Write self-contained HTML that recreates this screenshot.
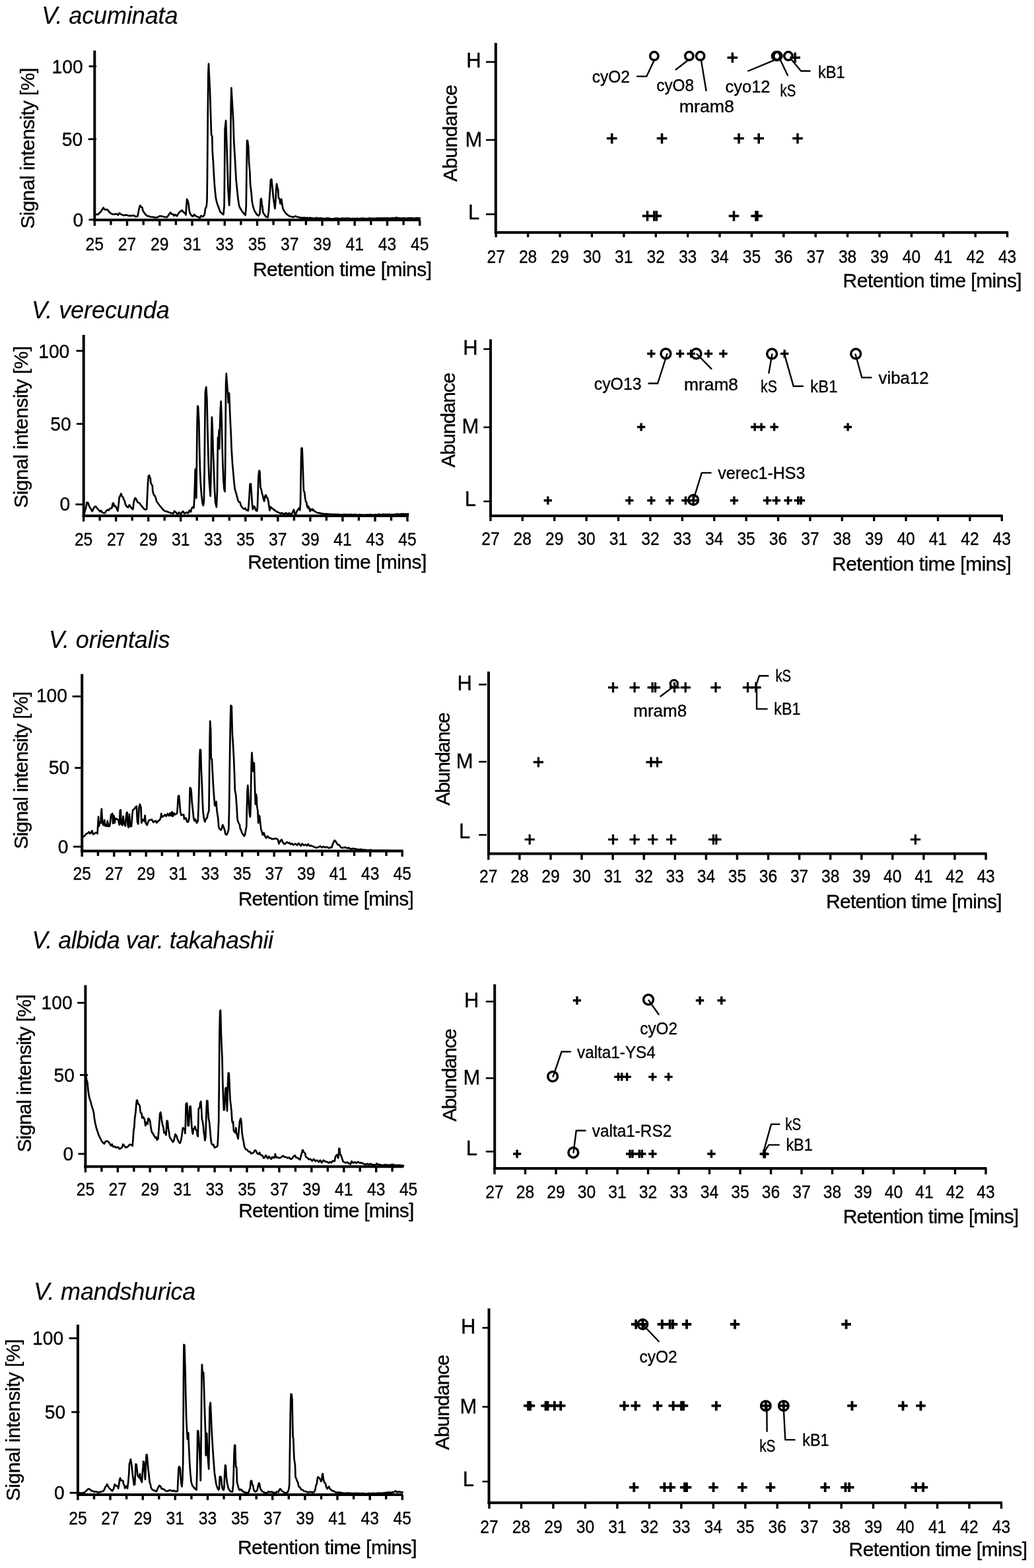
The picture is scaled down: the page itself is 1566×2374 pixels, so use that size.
<!DOCTYPE html>
<html lang="en">
<head>
<meta charset="utf-8">
<title>Viola cyclotide LC-MS profiles</title>
<style>
html,body{margin:0;padding:0;background:#fff;}
body{width:1566px;height:2374px;overflow:hidden;}
svg{display:block;}
text{font-family:"Liberation Sans",Arial,Helvetica,sans-serif;fill:#000;stroke:#000;stroke-width:0.35px;}
.ti{font-style:italic;stroke-width:0.15px;}
</style>
</head>
<body>
<svg width="1566" height="2374" viewBox="0 0 1566 2374">
<rect width="1566" height="2374" fill="#fff"/>
<g>
<polyline points="145.0,324.4 148.3,324.9 150.3,322.7 152.5,320.7 154.1,318.3 156.6,314.4 158.3,317.1 160.3,317.4 162.4,317.1 164.9,320.4 167.4,322.7 170.7,324.4 174.0,324.4 176.2,323.7 179.0,325.7 180.7,322.7 183.2,324.4 187.3,326.1 191.5,325.4 194.8,326.6 198.9,326.6 202.8,326.1 205.6,328.2 208.4,327.4 209.7,320.7 211.1,314.1 212.2,311.1 213.9,313.3 215.5,314.4 216.4,319.1 218.4,322.1 220.5,324.9 223.0,327.0 226.0,327.4 228.0,328.5 231.3,328.5 234.6,329.4 237.0,329.2 239.3,328.7 242.1,327.0 246.3,327.7 249.6,328.5 252.9,329.0 255.4,325.4 258.2,321.6 259.9,324.1 262.0,324.4 263.7,326.6 265.4,324.9 267.8,327.0 270.3,323.2 272.8,320.4 275.8,318.3 277.5,321.1 279.5,322.1 281.5,325.4 282.5,309.1 283.1,301.6 284.4,304.1 285.8,309.9 286.4,317.4 287.8,323.2 290.3,326.6 291.9,327.7 294.1,324.9 296.1,327.0 299.4,328.2 302.7,329.9 304.4,326.6 306.9,328.2 309.7,325.4 311.0,315.8 312.7,312.4 313.5,304.1 314.0,262.6 314.7,179.6 315.3,113.2 316.0,96.6 316.8,113.2 318.0,138.1 319.0,171.3 320.1,204.5 321.3,206.2 321.8,229.4 323.0,246.0 324.0,266.0 325.1,282.6 326.8,299.2 328.4,306.6 330.1,311.6 331.8,315.8 333.4,320.7 335.9,322.7 338.4,324.9 339.6,312.4 340.1,262.6 340.6,196.2 342.1,182.6 342.9,204.5 344.2,246.0 345.5,287.5 347.2,310.8 348.4,287.5 349.2,229.4 349.7,163.0 350.4,133.1 351.7,154.7 353.3,182.9 354.2,212.8 355.3,230.3 356.2,246.0 357.5,270.9 358.8,284.2 360.5,300.8 362.1,311.6 364.1,315.8 366.1,319.1 368.8,322.7 371.6,325.7 372.8,312.4 373.4,262.6 374.1,212.8 374.9,212.8 376.1,221.1 377.1,246.0 378.3,259.3 379.1,279.2 380.7,292.5 381.6,304.1 383.2,312.4 385.4,319.1 386.6,321.1 389.1,324.9 391.6,326.6 393.3,324.1 394.1,315.8 394.9,301.6 395.8,300.8 396.6,309.9 397.4,312.4 398.3,321.6 399.9,324.1 401.6,326.6 403.2,328.2 405.7,329.0 406.9,320.7 407.9,304.1 409.1,287.5 409.9,272.6 411.2,271.3 412.4,282.6 413.2,290.9 414.0,299.2 415.2,308.3 416.5,315.8 417.4,304.1 418.2,287.5 419.0,278.4 420.2,284.2 421.2,287.5 421.8,299.2 423.5,301.6 424.5,308.3 426.2,301.6 427.3,309.1 428.5,315.8 430.6,319.9 433.1,323.2 436.4,326.1 439.8,327.7 443.9,328.7 447.2,327.4 450.6,328.5 454.7,329.4 457.5,329.9 460.2,329.6 463.0,329.9 465.2,329.8 467.4,330.0 469.7,329.9 471.9,330.0 474.1,330.5 476.3,330.7 479.6,329.9 482.9,330.7 485.2,330.3 487.5,330.7 489.8,331.1 492.1,330.9 494.4,330.7 496.7,330.4 499.0,330.8 501.3,331.1 503.6,331.3 505.9,331.1 508.2,330.6 510.5,330.5 512.8,330.9 515.0,331.2 517.2,330.7 519.5,330.7 521.7,330.8 523.9,330.6 526.1,330.7 528.3,330.6 530.5,331.2 532.7,331.1 535.0,330.9 537.2,331.1 539.4,331.0 541.6,330.7 543.8,331.2 546.0,330.9 548.3,330.6 550.6,330.7 552.8,331.0 555.1,331.0 557.3,330.9 559.6,330.2 561.9,331.0 564.1,330.5 566.4,330.9 568.7,330.8 570.9,330.4 573.7,330.7 576.5,330.4 579.2,330.7 581.6,330.4 584.0,330.5 586.3,330.1 588.7,330.6 591.1,330.6 593.5,330.1 595.8,330.2 598.3,330.1 600.8,329.4 603.3,330.4 605.8,330.3 608.3,330.8 610.8,330.0 613.3,330.5 615.8,330.7 618.3,330.0 620.7,330.4 623.2,330.1 625.7,330.5 628.2,330.6 630.7,330.0 633.2,330.2 635.7,330.4" fill="none" stroke="#000" stroke-width="2.7" stroke-linejoin="round" stroke-linecap="round" />
<line x1="143.3" y1="76.6" x2="143.3" y2="335.0" stroke="#000" stroke-width="4.0" stroke-linecap="butt"/>
<line x1="141.3" y1="333.0" x2="636.5" y2="333.0" stroke="#000" stroke-width="4.0" stroke-linecap="butt"/>
<line x1="143.3" y1="333.0" x2="143.3" y2="341.8" stroke="#000" stroke-width="3.4" stroke-linecap="butt"/>
<line x1="167.9" y1="333.0" x2="167.9" y2="340.7" stroke="#000" stroke-width="3.4" stroke-linecap="butt"/>
<line x1="192.5" y1="333.0" x2="192.5" y2="341.8" stroke="#000" stroke-width="3.4" stroke-linecap="butt"/>
<line x1="217.2" y1="333.0" x2="217.2" y2="340.7" stroke="#000" stroke-width="3.4" stroke-linecap="butt"/>
<line x1="241.8" y1="333.0" x2="241.8" y2="341.8" stroke="#000" stroke-width="3.4" stroke-linecap="butt"/>
<line x1="266.4" y1="333.0" x2="266.4" y2="340.7" stroke="#000" stroke-width="3.4" stroke-linecap="butt"/>
<line x1="291.0" y1="333.0" x2="291.0" y2="341.8" stroke="#000" stroke-width="3.4" stroke-linecap="butt"/>
<line x1="315.6" y1="333.0" x2="315.6" y2="340.7" stroke="#000" stroke-width="3.4" stroke-linecap="butt"/>
<line x1="340.3" y1="333.0" x2="340.3" y2="341.8" stroke="#000" stroke-width="3.4" stroke-linecap="butt"/>
<line x1="364.9" y1="333.0" x2="364.9" y2="340.7" stroke="#000" stroke-width="3.4" stroke-linecap="butt"/>
<line x1="389.5" y1="333.0" x2="389.5" y2="341.8" stroke="#000" stroke-width="3.4" stroke-linecap="butt"/>
<line x1="414.1" y1="333.0" x2="414.1" y2="340.7" stroke="#000" stroke-width="3.4" stroke-linecap="butt"/>
<line x1="438.7" y1="333.0" x2="438.7" y2="341.8" stroke="#000" stroke-width="3.4" stroke-linecap="butt"/>
<line x1="463.4" y1="333.0" x2="463.4" y2="340.7" stroke="#000" stroke-width="3.4" stroke-linecap="butt"/>
<line x1="488.0" y1="333.0" x2="488.0" y2="341.8" stroke="#000" stroke-width="3.4" stroke-linecap="butt"/>
<line x1="512.6" y1="333.0" x2="512.6" y2="340.7" stroke="#000" stroke-width="3.4" stroke-linecap="butt"/>
<line x1="537.2" y1="333.0" x2="537.2" y2="341.8" stroke="#000" stroke-width="3.4" stroke-linecap="butt"/>
<line x1="561.8" y1="333.0" x2="561.8" y2="340.7" stroke="#000" stroke-width="3.4" stroke-linecap="butt"/>
<line x1="586.5" y1="333.0" x2="586.5" y2="341.8" stroke="#000" stroke-width="3.4" stroke-linecap="butt"/>
<line x1="611.1" y1="333.0" x2="611.1" y2="340.7" stroke="#000" stroke-width="3.4" stroke-linecap="butt"/>
<line x1="635.7" y1="333.0" x2="635.7" y2="341.8" stroke="#000" stroke-width="3.4" stroke-linecap="butt"/>
<text x="143.3" y="378.5" font-size="28" text-anchor="middle" class="tk" textLength="27.4" lengthAdjust="spacingAndGlyphs">25</text>
<text x="192.5" y="378.5" font-size="28" text-anchor="middle" class="tk" textLength="27.4" lengthAdjust="spacingAndGlyphs">27</text>
<text x="241.8" y="378.5" font-size="28" text-anchor="middle" class="tk" textLength="27.4" lengthAdjust="spacingAndGlyphs">29</text>
<text x="291.0" y="378.5" font-size="28" text-anchor="middle" class="tk" textLength="27.4" lengthAdjust="spacingAndGlyphs">31</text>
<text x="340.3" y="378.5" font-size="28" text-anchor="middle" class="tk" textLength="27.4" lengthAdjust="spacingAndGlyphs">33</text>
<text x="389.5" y="378.5" font-size="28" text-anchor="middle" class="tk" textLength="27.4" lengthAdjust="spacingAndGlyphs">35</text>
<text x="438.7" y="378.5" font-size="28" text-anchor="middle" class="tk" textLength="27.4" lengthAdjust="spacingAndGlyphs">37</text>
<text x="488.0" y="378.5" font-size="28" text-anchor="middle" class="tk" textLength="27.4" lengthAdjust="spacingAndGlyphs">39</text>
<text x="537.2" y="378.5" font-size="28" text-anchor="middle" class="tk" textLength="27.4" lengthAdjust="spacingAndGlyphs">41</text>
<text x="586.5" y="378.5" font-size="28" text-anchor="middle" class="tk" textLength="27.4" lengthAdjust="spacingAndGlyphs">43</text>
<text x="635.7" y="378.5" font-size="28" text-anchor="middle" class="tk" textLength="27.4" lengthAdjust="spacingAndGlyphs">45</text>
<line x1="134.5" y1="100.4" x2="146.0" y2="100.4" stroke="#000" stroke-width="2.8" stroke-linecap="butt"/>
<text x="125.7" y="110.5" font-size="30.3" text-anchor="end" class="yt" textLength="47.1" lengthAdjust="spacingAndGlyphs">100</text>
<line x1="133.6" y1="210.7" x2="146.0" y2="210.7" stroke="#000" stroke-width="2.8" stroke-linecap="butt"/>
<text x="125.2" y="220.6" font-size="30.3" text-anchor="end" class="yt" textLength="31.4" lengthAdjust="spacingAndGlyphs">50</text>
<line x1="134.5" y1="332.6" x2="143.3" y2="332.6" stroke="#000" stroke-width="2.8" stroke-linecap="butt"/>
<text x="126.3" y="343.3" font-size="30.3" text-anchor="end" class="yt" textLength="15.7" lengthAdjust="spacingAndGlyphs">0</text>
<text x="63.3" y="36.2" font-size="36" class="ti" textLength="206.2" lengthAdjust="spacing">V. acuminata</text>
<text transform="translate(51.6 346.2) rotate(-90)" font-size="30" class="lb" textLength="243.6" lengthAdjust="spacing">Signal intensity [%]</text>
<text x="382.9" y="417.6" font-size="30" class="lb" textLength="271.1" lengthAdjust="spacing">Retention time [mins]</text>
<polyline points="127.5,778.2 129.1,772.4 130.8,765.8 131.6,760.8 133.3,761.1 134.9,765.8 136.6,769.1 138.3,771.6 139.6,774.1 141.3,770.7 143.2,767.4 144.9,766.6 146.6,769.1 149.1,771.6 151.5,774.4 153.2,773.2 154.9,775.7 157.4,776.9 159.0,776.6 160.7,773.7 162.8,771.6 164.5,772.7 166.8,769.9 169.5,769.1 170.6,762.4 171.8,761.6 173.1,766.6 174.8,765.8 176.4,769.1 178.4,773.7 179.8,762.4 180.6,753.3 181.8,750.8 183.4,747.5 184.8,751.6 186.1,752.5 187.7,756.6 188.9,759.1 190.1,764.1 191.7,766.6 193.9,768.3 196.0,764.4 197.2,766.6 198.9,769.1 201.4,771.1 202.5,760.8 203.8,755.8 205.0,753.8 206.7,756.6 208.8,760.8 211.0,761.6 213.0,764.1 215.5,767.4 218.0,770.4 220.4,771.6 222.1,770.7 222.9,754.1 223.9,732.6 224.9,720.9 225.9,719.6 227.1,723.4 227.9,724.3 228.3,730.9 229.6,733.4 230.9,735.9 231.2,743.3 232.9,749.2 234.6,750.8 236.2,755.0 237.5,759.9 239.2,761.6 240.9,764.4 242.9,766.6 244.9,769.1 247.0,771.6 249.5,773.7 252.8,774.4 256.1,775.7 259.5,776.9 262.5,777.4 264.1,773.7 266.1,775.4 268.6,778.5 271.4,775.7 273.6,778.5 276.9,774.1 279.4,777.4 282.7,775.7 285.2,777.0 286.9,772.7 289.0,774.9 290.2,769.9 291.8,767.8 293.5,769.1 294.3,755.8 295.2,729.2 295.7,711.0 296.8,709.6 297.3,754.1 298.0,696.0 298.5,646.2 299.3,614.7 300.1,616.3 301.3,637.9 302.1,679.4 303.0,712.6 304.0,734.2 305.1,749.2 306.8,762.4 307.9,765.4 308.9,759.1 309.6,712.6 310.3,646.2 310.9,593.1 312.3,586.1 313.4,604.7 314.3,646.2 315.6,696.0 316.7,725.9 317.9,742.5 318.7,751.1 319.6,712.6 320.2,662.8 320.9,631.6 321.7,646.2 322.6,679.4 323.9,712.6 325.0,742.5 326.2,760.8 327.9,767.8 328.9,745.8 329.5,696.0 330.0,662.8 331.2,661.2 331.7,651.2 332.2,679.4 333.0,646.2 333.8,621.3 334.7,607.7 335.5,629.6 336.3,662.8 337.2,696.0 338.3,725.9 339.5,740.9 340.5,744.2 341.1,712.6 341.6,646.2 342.1,579.8 342.8,565.7 343.8,579.8 345.0,596.4 345.8,609.7 346.1,594.8 347.1,595.6 347.8,613.0 348.8,637.9 349.9,659.5 350.8,682.7 352.1,702.7 353.3,716.0 354.4,729.2 355.8,740.9 357.1,745.0 358.7,750.8 360.4,757.5 361.7,759.9 363.7,760.8 365.0,765.8 367.5,769.1 370.0,770.7 371.6,769.1 372.5,771.6 374.6,772.7 375.8,773.2 376.6,765.8 377.6,750.8 378.6,732.9 379.9,732.6 380.8,745.8 381.9,762.4 382.9,771.1 384.6,766.6 385.7,767.4 387.4,772.7 389.1,773.7 389.9,769.1 390.7,745.8 391.5,720.9 392.4,712.6 393.5,713.5 394.4,737.5 395.7,740.9 396.9,747.5 397.9,750.0 399.0,755.8 400.2,758.8 401.5,750.8 402.8,749.5 404.0,753.3 405.2,754.1 406.5,759.1 407.3,765.8 408.5,772.7 409.8,767.4 411.8,769.4 414.8,771.6 418.1,774.1 421.4,775.7 424.8,777.4 427.2,776.6 429.7,778.5 433.1,776.6 435.5,778.5 438.0,776.9 441.4,779.0 443.8,774.1 445.0,771.6 446.3,777.4 448.0,778.5 449.7,774.1 451.3,771.6 453.0,769.1 454.3,772.4 455.0,762.4 455.5,729.2 456.0,696.0 456.6,678.6 457.6,678.6 458.3,696.0 459.1,720.9 459.9,742.5 461.3,745.8 462.1,754.1 463.3,759.9 464.3,760.8 464.9,765.8 466.3,769.1 467.1,766.6 468.3,769.9 469.6,774.1 470.9,770.7 472.9,772.7 473.7,770.7 475.4,773.2 477.9,774.9 481.2,776.6 483.7,776.6 486.2,777.4 488.4,777.5 490.6,778.2 492.8,778.2 495.6,778.2 498.4,778.7 501.1,778.5 503.9,779.1 506.7,778.7 509.4,779.0 512.2,778.8 515.0,779.4 517.7,779.4 520.5,778.9 523.3,779.2 526.0,779.0 528.4,779.4 530.8,778.9 533.1,779.3 535.5,779.4 537.9,778.9 540.3,779.6 542.6,779.4 545.0,779.1 547.4,779.6 549.7,779.5 552.1,779.7 554.5,779.7 556.9,779.3 559.2,779.4 561.6,779.0 564.0,779.7 566.3,779.5 568.7,779.2 571.1,779.6 573.5,778.7 575.8,779.0 578.2,779.3 580.6,778.6 583.0,779.1 585.3,778.9 587.7,778.9 590.1,778.9 592.4,779.0 595.2,779.2 598.0,778.9 600.7,778.4 603.5,778.5 606.3,778.3 609.0,778.0 611.3,778.1 613.6,778.4 615.9,778.3 618.2,778.2" fill="none" stroke="#000" stroke-width="2.7" stroke-linejoin="round" stroke-linecap="round" />
<line x1="126.7" y1="506.9" x2="126.7" y2="783.1" stroke="#000" stroke-width="4.0" stroke-linecap="butt"/>
<line x1="124.7" y1="781.1" x2="619.0" y2="781.1" stroke="#000" stroke-width="4.0" stroke-linecap="butt"/>
<line x1="126.6" y1="781.1" x2="126.6" y2="789.5" stroke="#000" stroke-width="3.4" stroke-linecap="butt"/>
<line x1="151.1" y1="781.1" x2="151.1" y2="788.4" stroke="#000" stroke-width="3.4" stroke-linecap="butt"/>
<line x1="175.6" y1="781.1" x2="175.6" y2="789.5" stroke="#000" stroke-width="3.4" stroke-linecap="butt"/>
<line x1="200.2" y1="781.1" x2="200.2" y2="788.4" stroke="#000" stroke-width="3.4" stroke-linecap="butt"/>
<line x1="224.7" y1="781.1" x2="224.7" y2="789.5" stroke="#000" stroke-width="3.4" stroke-linecap="butt"/>
<line x1="249.2" y1="781.1" x2="249.2" y2="788.4" stroke="#000" stroke-width="3.4" stroke-linecap="butt"/>
<line x1="273.7" y1="781.1" x2="273.7" y2="789.5" stroke="#000" stroke-width="3.4" stroke-linecap="butt"/>
<line x1="298.2" y1="781.1" x2="298.2" y2="788.4" stroke="#000" stroke-width="3.4" stroke-linecap="butt"/>
<line x1="322.8" y1="781.1" x2="322.8" y2="789.5" stroke="#000" stroke-width="3.4" stroke-linecap="butt"/>
<line x1="347.3" y1="781.1" x2="347.3" y2="788.4" stroke="#000" stroke-width="3.4" stroke-linecap="butt"/>
<line x1="371.8" y1="781.1" x2="371.8" y2="789.5" stroke="#000" stroke-width="3.4" stroke-linecap="butt"/>
<line x1="396.3" y1="781.1" x2="396.3" y2="788.4" stroke="#000" stroke-width="3.4" stroke-linecap="butt"/>
<line x1="420.8" y1="781.1" x2="420.8" y2="789.5" stroke="#000" stroke-width="3.4" stroke-linecap="butt"/>
<line x1="445.4" y1="781.1" x2="445.4" y2="788.4" stroke="#000" stroke-width="3.4" stroke-linecap="butt"/>
<line x1="469.9" y1="781.1" x2="469.9" y2="789.5" stroke="#000" stroke-width="3.4" stroke-linecap="butt"/>
<line x1="494.4" y1="781.1" x2="494.4" y2="788.4" stroke="#000" stroke-width="3.4" stroke-linecap="butt"/>
<line x1="518.9" y1="781.1" x2="518.9" y2="789.5" stroke="#000" stroke-width="3.4" stroke-linecap="butt"/>
<line x1="543.4" y1="781.1" x2="543.4" y2="788.4" stroke="#000" stroke-width="3.4" stroke-linecap="butt"/>
<line x1="568.0" y1="781.1" x2="568.0" y2="789.5" stroke="#000" stroke-width="3.4" stroke-linecap="butt"/>
<line x1="592.5" y1="781.1" x2="592.5" y2="788.4" stroke="#000" stroke-width="3.4" stroke-linecap="butt"/>
<line x1="617.0" y1="781.1" x2="617.0" y2="789.5" stroke="#000" stroke-width="3.4" stroke-linecap="butt"/>
<text x="126.6" y="825.6" font-size="28" text-anchor="middle" class="tk" textLength="27.4" lengthAdjust="spacingAndGlyphs">25</text>
<text x="175.6" y="825.6" font-size="28" text-anchor="middle" class="tk" textLength="27.4" lengthAdjust="spacingAndGlyphs">27</text>
<text x="224.7" y="825.6" font-size="28" text-anchor="middle" class="tk" textLength="27.4" lengthAdjust="spacingAndGlyphs">29</text>
<text x="273.7" y="825.6" font-size="28" text-anchor="middle" class="tk" textLength="27.4" lengthAdjust="spacingAndGlyphs">31</text>
<text x="322.8" y="825.6" font-size="28" text-anchor="middle" class="tk" textLength="27.4" lengthAdjust="spacingAndGlyphs">33</text>
<text x="371.8" y="825.6" font-size="28" text-anchor="middle" class="tk" textLength="27.4" lengthAdjust="spacingAndGlyphs">35</text>
<text x="420.8" y="825.6" font-size="28" text-anchor="middle" class="tk" textLength="27.4" lengthAdjust="spacingAndGlyphs">37</text>
<text x="469.9" y="825.6" font-size="28" text-anchor="middle" class="tk" textLength="27.4" lengthAdjust="spacingAndGlyphs">39</text>
<text x="518.9" y="825.6" font-size="28" text-anchor="middle" class="tk" textLength="27.4" lengthAdjust="spacingAndGlyphs">41</text>
<text x="568.0" y="825.6" font-size="28" text-anchor="middle" class="tk" textLength="27.4" lengthAdjust="spacingAndGlyphs">43</text>
<text x="617.0" y="825.6" font-size="28" text-anchor="middle" class="tk" textLength="27.4" lengthAdjust="spacingAndGlyphs">45</text>
<line x1="115.5" y1="531.2" x2="126.7" y2="531.2" stroke="#000" stroke-width="2.8" stroke-linecap="butt"/>
<text x="105.3" y="541.9" font-size="30.3" text-anchor="end" class="yt" textLength="47.1" lengthAdjust="spacingAndGlyphs">100</text>
<line x1="115.9" y1="641.8" x2="126.7" y2="641.8" stroke="#000" stroke-width="2.8" stroke-linecap="butt"/>
<text x="107.7" y="651.5" font-size="30.3" text-anchor="end" class="yt" textLength="31.4" lengthAdjust="spacingAndGlyphs">50</text>
<line x1="114.4" y1="763.7" x2="126.7" y2="763.7" stroke="#000" stroke-width="2.8" stroke-linecap="butt"/>
<text x="106.3" y="773.3" font-size="30.3" text-anchor="end" class="yt" textLength="15.7" lengthAdjust="spacingAndGlyphs">0</text>
<text x="48.0" y="481.5" font-size="36" class="ti" textLength="208.7" lengthAdjust="spacing">V. verecunda</text>
<text transform="translate(42.3 768.9) rotate(-90)" font-size="30" class="lb" textLength="244.9" lengthAdjust="spacing">Signal intensity [%]</text>
<text x="375.2" y="861.2" font-size="30" class="lb" textLength="271.1" lengthAdjust="spacing">Retention time [mins]</text>
<polyline points="125.5,1267.5 128.0,1265.5 130.5,1262.5 132.9,1261.6 134.6,1259.5 136.3,1262.1 137.9,1260.8 139.3,1257.8 141.2,1263.3 143.7,1261.6 145.9,1260.5 147.6,1262.1 148.4,1247.5 149.0,1236.7 149.9,1250.9 151.2,1245.9 152.5,1245.9 153.2,1230.9 153.9,1224.6 154.5,1235.9 155.4,1247.5 157.0,1249.5 158.2,1241.7 159.2,1250.0 161.5,1250.9 162.8,1242.9 164.2,1251.2 166.1,1250.9 167.3,1242.6 168.1,1233.9 170.3,1231.8 171.1,1246.7 172.5,1235.1 173.6,1245.9 174.8,1239.2 177.4,1240.1 179.1,1241.7 180.8,1248.9 181.9,1226.8 182.8,1226.3 183.6,1247.5 185.2,1249.5 186.6,1235.9 187.7,1246.7 189.7,1250.5 191.1,1235.9 191.9,1230.1 192.7,1230.1 193.5,1249.2 194.7,1252.8 196.0,1232.9 197.0,1250.9 199.0,1251.2 200.2,1235.9 201.0,1226.8 203.0,1225.1 205.2,1222.3 206.8,1220.6 208.0,1244.2 209.3,1247.5 210.6,1222.6 211.8,1217.7 213.5,1222.6 214.3,1245.9 216.0,1240.9 218.4,1243.4 219.6,1234.6 220.6,1245.9 222.6,1249.2 224.3,1244.5 225.9,1241.7 228.4,1241.2 230.1,1240.9 232.2,1245.0 234.2,1243.4 236.2,1242.9 237.2,1245.9 239.2,1243.4 241.7,1241.7 243.4,1238.4 244.2,1231.8 245.5,1236.7 247.5,1235.9 250.0,1233.4 251.7,1235.9 253.8,1231.8 255.8,1235.1 257.8,1230.9 259.1,1235.1 260.5,1229.3 261.8,1235.9 263.3,1230.9 264.9,1233.4 266.6,1232.6 268.3,1230.9 269.1,1219.3 269.9,1205.2 271.1,1204.7 272.1,1216.0 273.2,1229.3 274.4,1234.3 276.6,1233.4 278.2,1233.4 279.0,1240.1 281.5,1238.4 283.2,1244.2 284.9,1244.5 286.5,1239.2 287.0,1222.6 287.7,1192.7 289.0,1193.6 289.8,1199.4 290.7,1214.3 292.0,1226.0 293.2,1238.4 294.3,1242.6 295.7,1240.1 297.0,1243.4 298.1,1245.9 299.8,1242.6 300.6,1222.6 301.5,1189.4 302.3,1147.9 303.0,1135.0 304.0,1135.5 304.8,1164.5 305.9,1189.4 306.8,1214.3 307.6,1229.3 308.9,1239.2 310.3,1244.2 311.9,1240.1 313.6,1238.4 314.7,1232.6 316.4,1227.6 316.9,1189.4 317.6,1123.0 318.2,1091.8 319.2,1106.4 319.7,1147.9 320.9,1149.6 321.9,1169.5 323.0,1189.4 323.9,1202.7 325.2,1219.3 326.4,1220.1 327.5,1213.5 328.5,1227.6 330.2,1238.4 331.3,1252.5 332.5,1255.0 334.7,1256.7 335.8,1254.2 337.2,1248.9 338.8,1252.5 340.5,1257.5 341.3,1262.5 343.0,1264.1 344.6,1261.6 346.3,1255.8 347.1,1222.6 347.9,1156.2 348.8,1098.1 349.6,1068.2 350.8,1069.1 351.8,1109.7 352.9,1126.3 354.1,1147.9 355.1,1172.8 355.8,1196.1 357.1,1202.7 358.4,1219.3 359.6,1240.9 361.2,1245.9 362.9,1248.4 363.7,1254.2 365.4,1257.5 366.6,1261.6 368.3,1263.3 369.6,1265.8 371.0,1264.1 372.1,1257.5 373.3,1250.9 373.9,1222.6 374.6,1197.7 375.3,1189.1 376.3,1206.0 377.1,1219.3 377.9,1232.6 378.9,1236.7 379.6,1222.6 380.1,1189.4 380.7,1159.5 381.4,1139.6 382.4,1152.9 383.2,1167.8 383.7,1154.6 384.9,1155.4 385.4,1172.8 386.2,1197.7 386.9,1217.7 387.9,1202.7 388.7,1207.7 389.2,1221.0 390.4,1227.6 391.2,1245.9 392.0,1234.3 393.2,1235.9 394.2,1245.9 395.4,1255.8 396.5,1259.2 397.8,1264.1 399.5,1260.8 401.2,1265.8 403.2,1268.8 405.3,1265.8 407.0,1268.3 409.5,1268.8 412.0,1270.4 415.3,1269.9 418.6,1269.5 421.1,1271.6 422.4,1277.4 424.1,1274.1 426.4,1271.1 428.1,1274.9 430.2,1277.8 432.4,1277.4 434.4,1274.9 436.9,1276.6 438.5,1275.8 440.2,1278.3 442.7,1277.1 444.3,1279.4 447.7,1277.4 450.1,1279.9 452.3,1276.6 454.3,1279.1 455.6,1280.7 457.6,1277.4 460.1,1279.9 462.6,1278.7 465.1,1280.4 466.7,1277.8 468.9,1280.7 471.7,1280.4 474.2,1281.6 476.7,1282.7 479.2,1283.6 482.5,1282.4 485.0,1281.1 487.5,1283.2 490.0,1281.6 492.5,1283.2 495.0,1282.4 498.3,1284.1 500.8,1282.7 502.4,1283.2 504.1,1277.4 506.6,1272.4 508.3,1273.8 509.9,1276.6 511.6,1279.1 513.7,1279.1 515.7,1282.4 518.2,1283.7 520.7,1283.2 523.2,1282.9 525.7,1284.1 528.2,1283.7 530.7,1285.4 534.0,1284.9 536.2,1284.8 538.4,1285.3 540.6,1285.7 543.4,1286.3 546.2,1285.9 548.9,1286.6 551.7,1286.7 554.5,1287.0 557.2,1287.0 559.6,1287.2 562.0,1286.9 564.3,1287.6 566.7,1287.5 569.1,1287.7 571.5,1287.7 573.8,1287.7 576.2,1287.7 578.6,1287.4 581.0,1288.0 583.3,1287.7 585.7,1287.8 588.1,1287.7 590.4,1287.9 592.8,1288.1 595.2,1287.9 597.6,1288.3 600.0,1287.8 602.4,1288.1 604.8,1288.0 607.1,1288.2 609.5,1288.2" fill="none" stroke="#000" stroke-width="2.7" stroke-linejoin="round" stroke-linecap="round" />
<line x1="124.2" y1="1020.5" x2="124.2" y2="1290.5" stroke="#000" stroke-width="4.0" stroke-linecap="butt"/>
<line x1="122.2" y1="1288.5" x2="610.7" y2="1288.5" stroke="#000" stroke-width="4.0" stroke-linecap="butt"/>
<line x1="124.2" y1="1288.5" x2="124.2" y2="1297.0" stroke="#000" stroke-width="3.4" stroke-linecap="butt"/>
<line x1="148.4" y1="1288.5" x2="148.4" y2="1295.9" stroke="#000" stroke-width="3.4" stroke-linecap="butt"/>
<line x1="172.7" y1="1288.5" x2="172.7" y2="1297.0" stroke="#000" stroke-width="3.4" stroke-linecap="butt"/>
<line x1="196.9" y1="1288.5" x2="196.9" y2="1295.9" stroke="#000" stroke-width="3.4" stroke-linecap="butt"/>
<line x1="221.2" y1="1288.5" x2="221.2" y2="1297.0" stroke="#000" stroke-width="3.4" stroke-linecap="butt"/>
<line x1="245.4" y1="1288.5" x2="245.4" y2="1295.9" stroke="#000" stroke-width="3.4" stroke-linecap="butt"/>
<line x1="269.7" y1="1288.5" x2="269.7" y2="1297.0" stroke="#000" stroke-width="3.4" stroke-linecap="butt"/>
<line x1="293.9" y1="1288.5" x2="293.9" y2="1295.9" stroke="#000" stroke-width="3.4" stroke-linecap="butt"/>
<line x1="318.2" y1="1288.5" x2="318.2" y2="1297.0" stroke="#000" stroke-width="3.4" stroke-linecap="butt"/>
<line x1="342.4" y1="1288.5" x2="342.4" y2="1295.9" stroke="#000" stroke-width="3.4" stroke-linecap="butt"/>
<line x1="366.7" y1="1288.5" x2="366.7" y2="1297.0" stroke="#000" stroke-width="3.4" stroke-linecap="butt"/>
<line x1="390.9" y1="1288.5" x2="390.9" y2="1295.9" stroke="#000" stroke-width="3.4" stroke-linecap="butt"/>
<line x1="415.2" y1="1288.5" x2="415.2" y2="1297.0" stroke="#000" stroke-width="3.4" stroke-linecap="butt"/>
<line x1="439.4" y1="1288.5" x2="439.4" y2="1295.9" stroke="#000" stroke-width="3.4" stroke-linecap="butt"/>
<line x1="463.7" y1="1288.5" x2="463.7" y2="1297.0" stroke="#000" stroke-width="3.4" stroke-linecap="butt"/>
<line x1="487.9" y1="1288.5" x2="487.9" y2="1295.9" stroke="#000" stroke-width="3.4" stroke-linecap="butt"/>
<line x1="512.2" y1="1288.5" x2="512.2" y2="1297.0" stroke="#000" stroke-width="3.4" stroke-linecap="butt"/>
<line x1="536.5" y1="1288.5" x2="536.5" y2="1295.9" stroke="#000" stroke-width="3.4" stroke-linecap="butt"/>
<line x1="560.7" y1="1288.5" x2="560.7" y2="1297.0" stroke="#000" stroke-width="3.4" stroke-linecap="butt"/>
<line x1="585.0" y1="1288.5" x2="585.0" y2="1295.9" stroke="#000" stroke-width="3.4" stroke-linecap="butt"/>
<line x1="609.2" y1="1288.5" x2="609.2" y2="1297.0" stroke="#000" stroke-width="3.4" stroke-linecap="butt"/>
<text x="124.2" y="1331.6" font-size="28" text-anchor="middle" class="tk" textLength="27.4" lengthAdjust="spacingAndGlyphs">25</text>
<text x="172.7" y="1331.6" font-size="28" text-anchor="middle" class="tk" textLength="27.4" lengthAdjust="spacingAndGlyphs">27</text>
<text x="221.2" y="1331.6" font-size="28" text-anchor="middle" class="tk" textLength="27.4" lengthAdjust="spacingAndGlyphs">29</text>
<text x="269.7" y="1331.6" font-size="28" text-anchor="middle" class="tk" textLength="27.4" lengthAdjust="spacingAndGlyphs">31</text>
<text x="318.2" y="1331.6" font-size="28" text-anchor="middle" class="tk" textLength="27.4" lengthAdjust="spacingAndGlyphs">33</text>
<text x="366.7" y="1331.6" font-size="28" text-anchor="middle" class="tk" textLength="27.4" lengthAdjust="spacingAndGlyphs">35</text>
<text x="415.2" y="1331.6" font-size="28" text-anchor="middle" class="tk" textLength="27.4" lengthAdjust="spacingAndGlyphs">37</text>
<text x="463.7" y="1331.6" font-size="28" text-anchor="middle" class="tk" textLength="27.4" lengthAdjust="spacingAndGlyphs">39</text>
<text x="512.2" y="1331.6" font-size="28" text-anchor="middle" class="tk" textLength="27.4" lengthAdjust="spacingAndGlyphs">41</text>
<text x="560.7" y="1331.6" font-size="28" text-anchor="middle" class="tk" textLength="27.4" lengthAdjust="spacingAndGlyphs">43</text>
<text x="609.2" y="1331.6" font-size="28" text-anchor="middle" class="tk" textLength="27.4" lengthAdjust="spacingAndGlyphs">45</text>
<line x1="109.6" y1="1054.4" x2="124.2" y2="1054.4" stroke="#000" stroke-width="2.8" stroke-linecap="butt"/>
<text x="102.0" y="1063.0" font-size="30.3" text-anchor="end" class="yt" textLength="47.1" lengthAdjust="spacingAndGlyphs">100</text>
<line x1="113.3" y1="1162.6" x2="124.2" y2="1162.6" stroke="#000" stroke-width="2.8" stroke-linecap="butt"/>
<text x="105.2" y="1172.4" font-size="30.3" text-anchor="end" class="yt" textLength="31.4" lengthAdjust="spacingAndGlyphs">50</text>
<line x1="111.0" y1="1281.9" x2="124.2" y2="1281.9" stroke="#000" stroke-width="2.8" stroke-linecap="butt"/>
<text x="103.5" y="1291.7" font-size="30.3" text-anchor="end" class="yt" textLength="15.7" lengthAdjust="spacingAndGlyphs">0</text>
<text x="73.9" y="981.3" font-size="36" class="ti" textLength="183.5" lengthAdjust="spacing">V. orientalis</text>
<text transform="translate(41.9 1285.6) rotate(-90)" font-size="30" class="lb" textLength="238.8" lengthAdjust="spacing">Signal intensity [%]</text>
<text x="360.7" y="1371.1" font-size="30" class="lb" textLength="266.1" lengthAdjust="spacing">Retention time [mins]</text>
<polyline points="130.3,1627.9 131.0,1634.5 132.3,1637.9 133.6,1651.1 134.8,1659.4 136.0,1664.4 137.3,1667.7 138.9,1674.4 140.6,1679.4 141.9,1684.3 143.1,1694.3 144.3,1701.0 145.9,1707.6 148.1,1714.2 149.7,1719.2 151.9,1723.4 153.9,1727.5 155.9,1730.0 158.0,1731.7 159.7,1728.3 161.9,1727.5 164.7,1729.2 166.8,1732.5 168.0,1734.5 169.7,1732.5 171.3,1736.1 173.8,1735.8 176.3,1737.8 178.8,1736.6 181.3,1739.5 183.4,1738.3 185.1,1736.6 186.3,1732.5 187.9,1734.2 190.4,1737.5 192.9,1736.6 194.6,1735.0 196.7,1732.8 199.0,1733.3 200.7,1735.0 201.7,1722.5 202.4,1710.9 203.4,1705.9 204.0,1694.3 205.4,1684.3 206.2,1674.4 207.0,1666.1 207.8,1665.8 209.0,1671.1 210.3,1671.9 211.7,1674.4 212.8,1684.3 214.5,1686.0 215.3,1692.7 217.0,1691.0 219.0,1695.1 220.3,1704.3 222.0,1699.3 223.6,1701.8 224.4,1693.5 225.6,1693.5 227.3,1697.6 228.3,1705.9 229.9,1714.2 231.6,1715.9 233.2,1719.5 235.2,1722.5 236.6,1721.7 237.7,1725.9 239.4,1724.2 240.2,1714.2 241.2,1701.0 242.2,1686.0 243.2,1684.0 243.9,1687.7 244.9,1696.0 246.0,1702.6 247.2,1705.9 248.5,1715.1 249.8,1714.2 251.5,1718.4 252.2,1705.9 252.8,1696.8 253.8,1697.6 254.8,1707.6 256.0,1714.2 256.8,1720.9 258.5,1723.9 260.1,1726.2 261.8,1729.2 263.5,1726.7 264.8,1720.0 265.6,1717.2 267.1,1719.2 268.8,1724.5 270.4,1728.3 272.6,1730.8 274.3,1725.9 275.4,1719.2 276.4,1710.9 277.1,1707.6 278.4,1708.4 279.7,1710.1 280.4,1715.9 281.1,1697.6 281.7,1671.1 283.1,1670.2 283.9,1681.0 284.7,1704.3 285.9,1704.3 286.7,1689.3 287.5,1675.2 288.7,1675.2 289.4,1689.3 290.4,1705.9 291.4,1714.2 292.0,1716.7 293.0,1709.3 294.2,1708.4 295.3,1705.6 296.7,1710.9 298.3,1711.7 298.7,1718.4 299.7,1720.5 300.3,1697.6 300.8,1678.5 302.5,1676.9 303.3,1669.4 304.3,1667.7 305.0,1677.7 305.8,1694.3 307.0,1698.5 308.0,1705.9 308.6,1714.2 309.6,1719.2 310.3,1726.7 311.3,1722.5 311.9,1705.9 312.6,1681.0 313.3,1666.4 314.3,1666.9 314.9,1677.7 315.8,1692.7 316.9,1697.6 317.9,1707.6 319.1,1722.5 320.2,1730.8 321.6,1733.3 323.2,1732.8 324.9,1737.5 327.4,1736.6 329.5,1735.0 330.2,1722.5 331.2,1697.6 331.9,1631.2 332.4,1564.8 333.2,1531.6 334.0,1529.6 334.9,1564.8 335.7,1584.7 336.5,1601.3 337.3,1639.5 338.2,1664.4 339.0,1680.7 339.8,1680.2 340.7,1664.4 341.5,1647.8 342.3,1647.0 343.2,1664.4 344.0,1681.9 344.5,1664.4 345.1,1639.5 345.8,1624.6 346.8,1624.9 347.8,1647.8 348.6,1664.4 349.5,1672.7 350.6,1682.7 351.5,1697.6 352.3,1700.1 353.1,1698.5 353.9,1711.7 355.6,1714.2 356.8,1715.1 357.3,1707.6 358.1,1715.9 359.4,1719.2 360.6,1724.2 361.8,1710.9 363.1,1697.6 364.4,1693.5 364.8,1693.5 365.7,1701.0 366.5,1714.2 367.7,1722.5 369.0,1729.2 370.3,1736.6 372.0,1740.0 374.3,1740.8 376.0,1743.3 378.6,1743.8 380.3,1746.6 382.3,1745.8 384.3,1744.9 385.9,1741.6 387.6,1742.1 389.7,1746.6 391.4,1747.4 393.1,1744.9 394.2,1748.3 396.4,1749.1 398.0,1750.4 399.2,1753.3 400.9,1752.8 402.5,1749.1 403.8,1750.8 405.5,1754.1 407.5,1750.8 409.2,1753.3 410.8,1754.9 412.5,1751.6 414.6,1753.3 416.3,1750.8 416.8,1747.1 418.0,1752.4 420.4,1752.1 422.9,1753.3 425.1,1752.8 427.1,1751.1 428.8,1749.9 430.7,1751.6 433.7,1752.1 435.7,1753.3 437.9,1752.4 440.0,1754.9 442.4,1754.1 444.5,1750.8 446.7,1749.4 448.7,1752.8 451.2,1753.3 452.8,1754.9 454.5,1755.7 455.6,1750.8 457.0,1745.8 458.3,1740.8 460.0,1744.1 462.0,1746.1 463.3,1751.6 465.3,1752.8 467.8,1755.4 470.3,1754.9 472.7,1757.7 475.2,1754.9 477.7,1758.2 480.2,1756.6 482.7,1759.4 484.9,1756.6 487.2,1760.4 489.8,1756.6 492.7,1758.7 495.2,1759.1 497.7,1760.7 499.8,1759.1 501.8,1760.4 504.3,1757.4 506.8,1758.2 508.1,1750.8 510.4,1748.3 512.1,1753.3 513.1,1747.4 513.4,1738.8 514.3,1739.1 514.8,1746.6 516.4,1749.1 518.1,1754.1 519.7,1758.7 521.7,1759.9 524.2,1760.4 526.7,1759.9 529.2,1762.0 530.9,1762.4 532.5,1758.2 534.7,1760.7 537.5,1759.4 539.7,1761.1 542.0,1759.1 544.6,1760.7 547.5,1760.4 550.8,1761.9 553.3,1763.2 556.3,1761.9 558.6,1763.5 561.2,1761.9 564.1,1763.7 566.6,1763.2 569.0,1764.4 570.7,1761.6 572.9,1763.5 575.7,1763.2 578.2,1764.4 581.5,1763.7 584.8,1763.5 588.1,1764.0 591.5,1763.7 594.8,1763.2 598.1,1764.0 600.6,1764.4 603.1,1764.0 605.6,1764.2 608.1,1764.5 611.0,1764.9" fill="none" stroke="#000" stroke-width="2.7" stroke-linejoin="round" stroke-linecap="round" />
<line x1="129.4" y1="1491.4" x2="129.4" y2="1768.2" stroke="#000" stroke-width="4.0" stroke-linecap="butt"/>
<line x1="127.4" y1="1766.2" x2="611.4" y2="1766.2" stroke="#000" stroke-width="4.0" stroke-linecap="butt"/>
<line x1="129.4" y1="1766.2" x2="129.4" y2="1775.0" stroke="#000" stroke-width="3.4" stroke-linecap="butt"/>
<line x1="153.9" y1="1766.2" x2="153.9" y2="1773.9" stroke="#000" stroke-width="3.4" stroke-linecap="butt"/>
<line x1="178.3" y1="1766.2" x2="178.3" y2="1775.0" stroke="#000" stroke-width="3.4" stroke-linecap="butt"/>
<line x1="202.8" y1="1766.2" x2="202.8" y2="1773.9" stroke="#000" stroke-width="3.4" stroke-linecap="butt"/>
<line x1="227.2" y1="1766.2" x2="227.2" y2="1775.0" stroke="#000" stroke-width="3.4" stroke-linecap="butt"/>
<line x1="251.7" y1="1766.2" x2="251.7" y2="1773.9" stroke="#000" stroke-width="3.4" stroke-linecap="butt"/>
<line x1="276.2" y1="1766.2" x2="276.2" y2="1775.0" stroke="#000" stroke-width="3.4" stroke-linecap="butt"/>
<line x1="300.6" y1="1766.2" x2="300.6" y2="1773.9" stroke="#000" stroke-width="3.4" stroke-linecap="butt"/>
<line x1="325.1" y1="1766.2" x2="325.1" y2="1775.0" stroke="#000" stroke-width="3.4" stroke-linecap="butt"/>
<line x1="349.5" y1="1766.2" x2="349.5" y2="1773.9" stroke="#000" stroke-width="3.4" stroke-linecap="butt"/>
<line x1="374.0" y1="1766.2" x2="374.0" y2="1775.0" stroke="#000" stroke-width="3.4" stroke-linecap="butt"/>
<line x1="398.5" y1="1766.2" x2="398.5" y2="1773.9" stroke="#000" stroke-width="3.4" stroke-linecap="butt"/>
<line x1="422.9" y1="1766.2" x2="422.9" y2="1775.0" stroke="#000" stroke-width="3.4" stroke-linecap="butt"/>
<line x1="447.4" y1="1766.2" x2="447.4" y2="1773.9" stroke="#000" stroke-width="3.4" stroke-linecap="butt"/>
<line x1="471.8" y1="1766.2" x2="471.8" y2="1775.0" stroke="#000" stroke-width="3.4" stroke-linecap="butt"/>
<line x1="496.3" y1="1766.2" x2="496.3" y2="1773.9" stroke="#000" stroke-width="3.4" stroke-linecap="butt"/>
<line x1="520.8" y1="1766.2" x2="520.8" y2="1775.0" stroke="#000" stroke-width="3.4" stroke-linecap="butt"/>
<line x1="545.2" y1="1766.2" x2="545.2" y2="1773.9" stroke="#000" stroke-width="3.4" stroke-linecap="butt"/>
<line x1="569.7" y1="1766.2" x2="569.7" y2="1775.0" stroke="#000" stroke-width="3.4" stroke-linecap="butt"/>
<line x1="594.1" y1="1766.2" x2="594.1" y2="1773.9" stroke="#000" stroke-width="3.4" stroke-linecap="butt"/>
<text x="129.4" y="1809.5" font-size="28" text-anchor="middle" class="tk" textLength="27.4" lengthAdjust="spacingAndGlyphs">25</text>
<text x="178.3" y="1809.5" font-size="28" text-anchor="middle" class="tk" textLength="27.4" lengthAdjust="spacingAndGlyphs">27</text>
<text x="227.2" y="1809.5" font-size="28" text-anchor="middle" class="tk" textLength="27.4" lengthAdjust="spacingAndGlyphs">29</text>
<text x="276.2" y="1809.5" font-size="28" text-anchor="middle" class="tk" textLength="27.4" lengthAdjust="spacingAndGlyphs">31</text>
<text x="325.1" y="1809.5" font-size="28" text-anchor="middle" class="tk" textLength="27.4" lengthAdjust="spacingAndGlyphs">33</text>
<text x="374.0" y="1809.5" font-size="28" text-anchor="middle" class="tk" textLength="27.4" lengthAdjust="spacingAndGlyphs">35</text>
<text x="422.9" y="1809.5" font-size="28" text-anchor="middle" class="tk" textLength="27.4" lengthAdjust="spacingAndGlyphs">37</text>
<text x="471.8" y="1809.5" font-size="28" text-anchor="middle" class="tk" textLength="27.4" lengthAdjust="spacingAndGlyphs">39</text>
<text x="520.8" y="1809.5" font-size="28" text-anchor="middle" class="tk" textLength="27.4" lengthAdjust="spacingAndGlyphs">41</text>
<text x="569.7" y="1809.5" font-size="28" text-anchor="middle" class="tk" textLength="27.4" lengthAdjust="spacingAndGlyphs">43</text>
<text x="618.6" y="1809.5" font-size="28" text-anchor="middle" class="tk" textLength="27.4" lengthAdjust="spacingAndGlyphs">45</text>
<line x1="117.2" y1="1518.3" x2="129.4" y2="1518.3" stroke="#000" stroke-width="2.8" stroke-linecap="butt"/>
<text x="109.6" y="1527.9" font-size="30.3" text-anchor="end" class="yt" textLength="47.1" lengthAdjust="spacingAndGlyphs">100</text>
<line x1="121.0" y1="1627.6" x2="133.0" y2="1627.6" stroke="#000" stroke-width="2.8" stroke-linecap="butt"/>
<text x="112.9" y="1637.6" font-size="30.3" text-anchor="end" class="yt" textLength="31.4" lengthAdjust="spacingAndGlyphs">50</text>
<line x1="118.4" y1="1747.0" x2="129.4" y2="1747.0" stroke="#000" stroke-width="2.8" stroke-linecap="butt"/>
<text x="111.2" y="1756.6" font-size="30.3" text-anchor="end" class="yt" textLength="15.7" lengthAdjust="spacingAndGlyphs">0</text>
<text x="48.5" y="1436.2" font-size="36" class="ti" textLength="365.5" lengthAdjust="spacing">V. albida var. takahashii</text>
<text transform="translate(46.5 1744.4) rotate(-90)" font-size="30" class="lb" textLength="238.9" lengthAdjust="spacing">Signal intensity [%]</text>
<text x="361.2" y="1843.3" font-size="30" class="lb" textLength="266.1" lengthAdjust="spacing">Retention time [mins]</text>
<polyline points="119.5,2260.4 123.6,2260.7 127.8,2259.9 130.3,2257.4 132.8,2254.9 135.2,2254.1 137.7,2256.6 140.2,2257.4 142.7,2258.7 145.2,2258.2 147.7,2259.4 151.0,2259.1 154.3,2258.2 156.8,2257.4 158.5,2254.1 159.8,2250.8 161.0,2249.9 162.3,2247.1 163.8,2250.8 166.0,2253.7 168.4,2255.7 169.8,2257.4 172.1,2254.1 173.8,2247.4 175.1,2249.1 176.4,2249.9 178.1,2249.9 179.2,2253.7 180.4,2245.8 181.4,2239.1 182.2,2237.8 183.4,2241.6 185.1,2241.6 186.4,2242.1 187.0,2246.6 188.4,2249.1 189.2,2253.3 190.9,2250.8 192.0,2249.9 193.0,2253.7 194.2,2244.1 195.3,2230.8 196.0,2215.9 197.0,2213.4 197.8,2209.3 198.7,2214.2 199.7,2220.9 200.8,2232.5 202.0,2240.8 203.0,2248.3 204.1,2247.4 205.0,2230.8 205.6,2216.7 206.6,2217.2 207.6,2225.9 208.6,2234.2 210.3,2236.6 211.3,2237.5 211.9,2231.7 212.9,2240.0 214.1,2242.5 214.9,2244.1 215.8,2229.2 216.6,2222.5 217.1,2212.6 217.9,2213.4 218.8,2227.5 219.9,2240.0 220.4,2230.8 221.1,2210.9 221.7,2202.3 222.6,2202.6 223.6,2214.2 224.6,2225.9 225.7,2234.2 226.6,2244.1 227.9,2247.4 228.7,2252.4 230.2,2254.9 231.9,2256.1 234.0,2256.6 236.9,2258.2 239.0,2253.3 241.2,2249.1 243.2,2250.4 244.8,2254.1 246.8,2254.1 249.0,2255.7 251.5,2257.4 254.0,2257.7 256.4,2256.1 258.9,2256.6 261.4,2257.7 263.4,2256.6 265.6,2258.2 267.7,2258.2 268.9,2257.4 269.7,2239.1 270.6,2221.7 271.7,2220.5 272.7,2222.5 273.4,2234.2 274.4,2245.8 275.5,2250.8 276.4,2239.1 277.2,2214.2 277.7,2147.8 278.0,2081.4 278.5,2035.8 279.4,2036.6 280.0,2056.5 280.7,2081.4 281.3,2114.6 282.2,2147.8 283.0,2164.4 283.8,2178.5 284.7,2179.4 285.2,2169.4 286.0,2189.3 287.2,2214.2 288.3,2230.8 289.7,2244.1 291.3,2249.1 293.3,2251.6 295.5,2254.1 297.6,2255.7 298.3,2230.8 298.8,2197.6 299.3,2166.1 300.3,2166.9 301.3,2181.0 302.1,2197.6 302.9,2214.2 303.8,2241.6 304.3,2214.2 304.9,2147.8 305.4,2089.7 305.9,2066.1 306.6,2076.4 307.4,2077.3 308.2,2078.1 308.9,2098.0 309.6,2122.9 310.4,2147.8 311.2,2169.4 311.7,2203.4 312.6,2202.6 313.2,2170.2 313.9,2189.3 314.9,2207.6 316.2,2224.2 316.9,2181.0 317.5,2131.2 318.7,2123.7 319.5,2139.5 320.5,2164.4 321.5,2181.0 322.5,2197.6 323.7,2214.2 324.8,2229.2 326.2,2239.1 327.5,2247.4 329.2,2252.4 330.8,2255.7 332.0,2254.1 332.8,2235.8 334.1,2235.5 335.0,2237.5 335.8,2247.4 337.0,2254.1 338.6,2256.1 339.5,2252.4 340.3,2230.8 341.1,2218.4 341.9,2218.9 342.8,2235.8 344.4,2247.4 346.1,2254.1 348.6,2257.7 351.1,2258.7 352.0,2258.7 353.3,2247.4 354.0,2222.5 354.7,2197.6 355.3,2188.0 356.2,2188.5 356.6,2205.9 357.3,2220.9 358.3,2221.7 359.0,2244.1 360.3,2249.1 361.6,2254.1 363.3,2256.1 365.0,2254.9 366.9,2257.1 369.4,2259.1 372.8,2259.9 376.1,2260.4 377.7,2255.7 378.9,2252.4 379.6,2244.1 380.2,2241.8 381.1,2242.1 381.9,2247.4 383.2,2249.1 383.9,2254.1 385.2,2257.4 386.9,2258.7 388.5,2257.7 389.9,2254.9 391.0,2249.1 392.2,2245.4 393.0,2246.1 393.8,2251.6 395.2,2255.7 397.2,2258.2 400.1,2259.4 402.6,2260.7 405.1,2259.9 406.5,2258.2 409.3,2259.1 411.8,2258.7 414.8,2259.9 417.6,2260.4 419.7,2258.2 421.7,2259.1 423.1,2255.7 424.4,2254.1 425.9,2256.1 428.0,2258.2 430.9,2259.9 434.2,2260.4 436.3,2258.2 437.5,2254.1 438.3,2247.4 438.7,2214.2 439.2,2181.0 439.7,2147.8 440.3,2117.9 440.8,2110.5 441.7,2111.3 442.5,2119.6 443.0,2147.8 443.6,2175.2 444.3,2177.7 445.0,2197.6 445.5,2208.4 446.3,2214.2 447.0,2219.2 447.5,2236.6 448.6,2238.3 450.0,2242.5 451.3,2244.9 452.4,2250.8 454.1,2251.6 455.8,2254.9 458.3,2255.7 460.7,2257.7 463.2,2258.2 466.6,2259.4 469.9,2258.7 473.2,2259.4 475.7,2259.1 477.4,2255.7 478.5,2249.1 479.8,2246.6 480.7,2239.1 481.5,2236.1 483.2,2237.5 484.8,2239.5 486.2,2242.8 487.3,2240.8 488.1,2232.5 488.8,2231.2 489.8,2239.1 491.1,2244.1 492.8,2245.8 494.0,2250.8 495.6,2254.1 498.1,2250.8 499.8,2254.1 502.3,2256.6 505.6,2257.7 508.1,2259.4 510.6,2259.6 513.0,2259.7 515.5,2259.7 518.0,2260.4 520.8,2260.7 523.6,2260.9 526.3,2260.7 529.1,2260.6 531.9,2261.1 534.6,2261.1 537.0,2260.8 539.4,2261.2 541.7,2260.9 544.1,2261.0 546.5,2261.5 548.9,2260.8 551.2,2261.2 553.6,2261.5 556.0,2261.5 558.3,2260.9 560.7,2261.2 563.1,2261.2 565.5,2260.9 567.8,2261.2 570.1,2261.0 572.3,2260.7 574.5,2260.7 576.7,2260.9 578.9,2260.7 581.1,2260.7 583.3,2260.0 585.5,2260.1 587.8,2259.4 591.9,2259.9 596.1,2259.1 599.0,2257.4 601.0,2259.1 604.4,2258.7 607.7,2259.1 609.7,2259.4" fill="none" stroke="#000" stroke-width="2.7" stroke-linejoin="round" stroke-linecap="round" />
<line x1="117.9" y1="2005.5" x2="117.9" y2="2265.1" stroke="#000" stroke-width="4.0" stroke-linecap="butt"/>
<line x1="115.9" y1="2263.1" x2="610.2" y2="2263.1" stroke="#000" stroke-width="4.0" stroke-linecap="butt"/>
<line x1="117.9" y1="2263.1" x2="117.9" y2="2271.2" stroke="#000" stroke-width="3.4" stroke-linecap="butt"/>
<line x1="142.5" y1="2263.1" x2="142.5" y2="2270.1" stroke="#000" stroke-width="3.4" stroke-linecap="butt"/>
<line x1="167.0" y1="2263.1" x2="167.0" y2="2271.2" stroke="#000" stroke-width="3.4" stroke-linecap="butt"/>
<line x1="191.6" y1="2263.1" x2="191.6" y2="2270.1" stroke="#000" stroke-width="3.4" stroke-linecap="butt"/>
<line x1="216.2" y1="2263.1" x2="216.2" y2="2271.2" stroke="#000" stroke-width="3.4" stroke-linecap="butt"/>
<line x1="240.8" y1="2263.1" x2="240.8" y2="2270.1" stroke="#000" stroke-width="3.4" stroke-linecap="butt"/>
<line x1="265.3" y1="2263.1" x2="265.3" y2="2271.2" stroke="#000" stroke-width="3.4" stroke-linecap="butt"/>
<line x1="289.9" y1="2263.1" x2="289.9" y2="2270.1" stroke="#000" stroke-width="3.4" stroke-linecap="butt"/>
<line x1="314.5" y1="2263.1" x2="314.5" y2="2271.2" stroke="#000" stroke-width="3.4" stroke-linecap="butt"/>
<line x1="339.0" y1="2263.1" x2="339.0" y2="2270.1" stroke="#000" stroke-width="3.4" stroke-linecap="butt"/>
<line x1="363.6" y1="2263.1" x2="363.6" y2="2271.2" stroke="#000" stroke-width="3.4" stroke-linecap="butt"/>
<line x1="388.2" y1="2263.1" x2="388.2" y2="2270.1" stroke="#000" stroke-width="3.4" stroke-linecap="butt"/>
<line x1="412.7" y1="2263.1" x2="412.7" y2="2271.2" stroke="#000" stroke-width="3.4" stroke-linecap="butt"/>
<line x1="437.3" y1="2263.1" x2="437.3" y2="2270.1" stroke="#000" stroke-width="3.4" stroke-linecap="butt"/>
<line x1="461.9" y1="2263.1" x2="461.9" y2="2271.2" stroke="#000" stroke-width="3.4" stroke-linecap="butt"/>
<line x1="486.5" y1="2263.1" x2="486.5" y2="2270.1" stroke="#000" stroke-width="3.4" stroke-linecap="butt"/>
<line x1="511.0" y1="2263.1" x2="511.0" y2="2271.2" stroke="#000" stroke-width="3.4" stroke-linecap="butt"/>
<line x1="535.6" y1="2263.1" x2="535.6" y2="2270.1" stroke="#000" stroke-width="3.4" stroke-linecap="butt"/>
<line x1="560.2" y1="2263.1" x2="560.2" y2="2271.2" stroke="#000" stroke-width="3.4" stroke-linecap="butt"/>
<line x1="584.7" y1="2263.1" x2="584.7" y2="2270.1" stroke="#000" stroke-width="3.4" stroke-linecap="butt"/>
<line x1="609.3" y1="2263.1" x2="609.3" y2="2271.2" stroke="#000" stroke-width="3.4" stroke-linecap="butt"/>
<text x="117.9" y="2307.7" font-size="28" text-anchor="middle" class="tk" textLength="27.4" lengthAdjust="spacingAndGlyphs">25</text>
<text x="167.0" y="2307.7" font-size="28" text-anchor="middle" class="tk" textLength="27.4" lengthAdjust="spacingAndGlyphs">27</text>
<text x="216.2" y="2307.7" font-size="28" text-anchor="middle" class="tk" textLength="27.4" lengthAdjust="spacingAndGlyphs">29</text>
<text x="265.3" y="2307.7" font-size="28" text-anchor="middle" class="tk" textLength="27.4" lengthAdjust="spacingAndGlyphs">31</text>
<text x="314.5" y="2307.7" font-size="28" text-anchor="middle" class="tk" textLength="27.4" lengthAdjust="spacingAndGlyphs">33</text>
<text x="363.6" y="2307.7" font-size="28" text-anchor="middle" class="tk" textLength="27.4" lengthAdjust="spacingAndGlyphs">35</text>
<text x="412.7" y="2307.7" font-size="28" text-anchor="middle" class="tk" textLength="27.4" lengthAdjust="spacingAndGlyphs">37</text>
<text x="461.9" y="2307.7" font-size="28" text-anchor="middle" class="tk" textLength="27.4" lengthAdjust="spacingAndGlyphs">39</text>
<text x="511.0" y="2307.7" font-size="28" text-anchor="middle" class="tk" textLength="27.4" lengthAdjust="spacingAndGlyphs">41</text>
<text x="560.2" y="2307.7" font-size="28" text-anchor="middle" class="tk" textLength="27.4" lengthAdjust="spacingAndGlyphs">43</text>
<text x="609.3" y="2307.7" font-size="28" text-anchor="middle" class="tk" textLength="27.4" lengthAdjust="spacingAndGlyphs">45</text>
<line x1="104.5" y1="2026.1" x2="117.9" y2="2026.1" stroke="#000" stroke-width="2.8" stroke-linecap="butt"/>
<text x="96.1" y="2036.2" font-size="30.3" text-anchor="end" class="yt" textLength="47.1" lengthAdjust="spacingAndGlyphs">100</text>
<line x1="108.2" y1="2137.9" x2="120.5" y2="2137.9" stroke="#000" stroke-width="2.8" stroke-linecap="butt"/>
<text x="99.2" y="2147.6" font-size="30.3" text-anchor="end" class="yt" textLength="31.4" lengthAdjust="spacingAndGlyphs">50</text>
<line x1="105.6" y1="2260.2" x2="117.9" y2="2260.2" stroke="#000" stroke-width="2.8" stroke-linecap="butt"/>
<text x="97.8" y="2269.9" font-size="30.3" text-anchor="end" class="yt" textLength="15.7" lengthAdjust="spacingAndGlyphs">0</text>
<text x="51.3" y="1968.3" font-size="36" class="ti" textLength="245.0" lengthAdjust="spacing">V. mandshurica</text>
<text transform="translate(29.7 2272.6) rotate(-90)" font-size="30" class="lb" textLength="245.1" lengthAdjust="spacing">Signal intensity [%]</text>
<text x="359.9" y="2353.0" font-size="30" class="lb" textLength="271.7" lengthAdjust="spacing">Retention time [mins]</text>
<line x1="750.8" y1="65.0" x2="750.8" y2="354.1" stroke="#000" stroke-width="4.0" stroke-linecap="butt"/>
<line x1="748.8" y1="352.1" x2="1527.1" y2="352.1" stroke="#000" stroke-width="4.0" stroke-linecap="butt"/>
<line x1="751.2" y1="352.1" x2="751.2" y2="359.2" stroke="#000" stroke-width="3.4" stroke-linecap="butt"/>
<text x="751.2" y="397.5" font-size="28" text-anchor="middle" class="tk" textLength="27.4" lengthAdjust="spacingAndGlyphs">27</text>
<line x1="799.6" y1="352.1" x2="799.6" y2="359.2" stroke="#000" stroke-width="3.4" stroke-linecap="butt"/>
<text x="799.6" y="397.5" font-size="28" text-anchor="middle" class="tk" textLength="27.4" lengthAdjust="spacingAndGlyphs">28</text>
<line x1="848.0" y1="352.1" x2="848.0" y2="359.2" stroke="#000" stroke-width="3.4" stroke-linecap="butt"/>
<text x="848.0" y="397.5" font-size="28" text-anchor="middle" class="tk" textLength="27.4" lengthAdjust="spacingAndGlyphs">29</text>
<line x1="896.4" y1="352.1" x2="896.4" y2="359.2" stroke="#000" stroke-width="3.4" stroke-linecap="butt"/>
<text x="896.4" y="397.5" font-size="28" text-anchor="middle" class="tk" textLength="27.4" lengthAdjust="spacingAndGlyphs">30</text>
<line x1="944.8" y1="352.1" x2="944.8" y2="359.2" stroke="#000" stroke-width="3.4" stroke-linecap="butt"/>
<text x="944.8" y="397.5" font-size="28" text-anchor="middle" class="tk" textLength="27.4" lengthAdjust="spacingAndGlyphs">31</text>
<line x1="993.2" y1="352.1" x2="993.2" y2="359.2" stroke="#000" stroke-width="3.4" stroke-linecap="butt"/>
<text x="993.2" y="397.5" font-size="28" text-anchor="middle" class="tk" textLength="27.4" lengthAdjust="spacingAndGlyphs">32</text>
<line x1="1041.6" y1="352.1" x2="1041.6" y2="359.2" stroke="#000" stroke-width="3.4" stroke-linecap="butt"/>
<text x="1041.6" y="397.5" font-size="28" text-anchor="middle" class="tk" textLength="27.4" lengthAdjust="spacingAndGlyphs">33</text>
<line x1="1090.0" y1="352.1" x2="1090.0" y2="359.2" stroke="#000" stroke-width="3.4" stroke-linecap="butt"/>
<text x="1090.0" y="397.5" font-size="28" text-anchor="middle" class="tk" textLength="27.4" lengthAdjust="spacingAndGlyphs">34</text>
<line x1="1138.4" y1="352.1" x2="1138.4" y2="359.2" stroke="#000" stroke-width="3.4" stroke-linecap="butt"/>
<text x="1138.4" y="397.5" font-size="28" text-anchor="middle" class="tk" textLength="27.4" lengthAdjust="spacingAndGlyphs">35</text>
<line x1="1186.8" y1="352.1" x2="1186.8" y2="359.2" stroke="#000" stroke-width="3.4" stroke-linecap="butt"/>
<text x="1186.8" y="397.5" font-size="28" text-anchor="middle" class="tk" textLength="27.4" lengthAdjust="spacingAndGlyphs">36</text>
<line x1="1235.2" y1="352.1" x2="1235.2" y2="359.2" stroke="#000" stroke-width="3.4" stroke-linecap="butt"/>
<text x="1235.2" y="397.5" font-size="28" text-anchor="middle" class="tk" textLength="27.4" lengthAdjust="spacingAndGlyphs">37</text>
<line x1="1283.6" y1="352.1" x2="1283.6" y2="359.2" stroke="#000" stroke-width="3.4" stroke-linecap="butt"/>
<text x="1283.6" y="397.5" font-size="28" text-anchor="middle" class="tk" textLength="27.4" lengthAdjust="spacingAndGlyphs">38</text>
<line x1="1332.0" y1="352.1" x2="1332.0" y2="359.2" stroke="#000" stroke-width="3.4" stroke-linecap="butt"/>
<text x="1332.0" y="397.5" font-size="28" text-anchor="middle" class="tk" textLength="27.4" lengthAdjust="spacingAndGlyphs">39</text>
<line x1="1380.4" y1="352.1" x2="1380.4" y2="359.2" stroke="#000" stroke-width="3.4" stroke-linecap="butt"/>
<text x="1380.4" y="397.5" font-size="28" text-anchor="middle" class="tk" textLength="27.4" lengthAdjust="spacingAndGlyphs">40</text>
<line x1="1428.8" y1="352.1" x2="1428.8" y2="359.2" stroke="#000" stroke-width="3.4" stroke-linecap="butt"/>
<text x="1428.8" y="397.5" font-size="28" text-anchor="middle" class="tk" textLength="27.4" lengthAdjust="spacingAndGlyphs">41</text>
<line x1="1477.2" y1="352.1" x2="1477.2" y2="359.2" stroke="#000" stroke-width="3.4" stroke-linecap="butt"/>
<text x="1477.2" y="397.5" font-size="28" text-anchor="middle" class="tk" textLength="27.4" lengthAdjust="spacingAndGlyphs">42</text>
<line x1="1525.6" y1="352.1" x2="1525.6" y2="359.2" stroke="#000" stroke-width="3.4" stroke-linecap="butt"/>
<text x="1525.6" y="397.5" font-size="28" text-anchor="middle" class="tk" textLength="27.4" lengthAdjust="spacingAndGlyphs">43</text>
<line x1="736.0" y1="93.8" x2="749.0" y2="93.8" stroke="#000" stroke-width="2.6" stroke-linecap="butt"/>
<text x="717.4" y="101.8" font-size="31" text-anchor="middle" class="hml">H</text>
<line x1="736.0" y1="211.9" x2="749.0" y2="211.9" stroke="#000" stroke-width="2.6" stroke-linecap="butt"/>
<text x="717.3" y="222.3" font-size="31" text-anchor="middle" class="hml">M</text>
<line x1="736.0" y1="324.4" x2="749.0" y2="324.4" stroke="#000" stroke-width="2.6" stroke-linecap="butt"/>
<text x="717.5" y="331.6" font-size="31" text-anchor="middle" class="hml">L</text>
<text transform="translate(691.8 275.0) rotate(-90)" font-size="30" class="lb" textLength="147.0" lengthAdjust="spacing">Abundance</text>
<text x="1276.6" y="434.7" font-size="30" class="lb" textLength="271.1" lengthAdjust="spacing">Retention time [mins]</text>
<path d="M1101.5 87.3H1117.1M1109.3 79.5V95.1" stroke="#000" stroke-width="3.5" fill="none"/>
<path d="M1196.4 87.2H1212.0M1204.2 79.4V95.0" stroke="#000" stroke-width="3.5" fill="none"/>
<path d="M918.9 209.6H934.5M926.7 201.8V217.4" stroke="#000" stroke-width="3.5" fill="none"/>
<path d="M994.7 209.6H1010.3M1002.5 201.8V217.4" stroke="#000" stroke-width="3.5" fill="none"/>
<path d="M1111.2 209.6H1126.8M1119.0 201.8V217.4" stroke="#000" stroke-width="3.5" fill="none"/>
<path d="M1141.4 209.6H1157.0M1149.2 201.8V217.4" stroke="#000" stroke-width="3.5" fill="none"/>
<path d="M1200.2 209.6H1215.8M1208.0 201.8V217.4" stroke="#000" stroke-width="3.5" fill="none"/>
<path d="M972.7 327.0H988.3M980.5 319.2V334.8" stroke="#000" stroke-width="3.5" fill="none"/>
<path d="M983.0 327.0H998.6M990.8 319.2V334.8" stroke="#000" stroke-width="3.5" fill="none"/>
<path d="M986.5 327.0H1002.1M994.3 319.2V334.8" stroke="#000" stroke-width="3.5" fill="none"/>
<path d="M1103.7 327.0H1119.3M1111.5 319.2V334.8" stroke="#000" stroke-width="3.5" fill="none"/>
<path d="M1137.2 327.0H1152.8M1145.0 319.2V334.8" stroke="#000" stroke-width="3.5" fill="none"/>
<path d="M1139.2 327.0H1154.8M1147.0 319.2V334.8" stroke="#000" stroke-width="3.5" fill="none"/>
<circle cx="990.8" cy="84.8" r="6.2" fill="none" stroke="#000" stroke-width="3.5"/>
<circle cx="1043.8" cy="84.8" r="6.2" fill="none" stroke="#000" stroke-width="3.5"/>
<circle cx="1060.6" cy="84.8" r="6.2" fill="none" stroke="#000" stroke-width="3.5"/>
<circle cx="1175.6" cy="84.8" r="6.2" fill="none" stroke="#000" stroke-width="3.5"/>
<circle cx="1177.8" cy="84.8" r="6.2" fill="none" stroke="#000" stroke-width="3.5"/>
<circle cx="1193.9" cy="84.8" r="6.2" fill="none" stroke="#000" stroke-width="3.5"/>
<polyline points="990.6,91.4 979.3,115.6 965.0,115.6" fill="none" stroke="#000" stroke-width="2.4" stroke-linejoin="round" stroke-linecap="round" />
<polyline points="1043.6,90.0 1023.7,105.2" fill="none" stroke="#000" stroke-width="2.4" stroke-linejoin="round" stroke-linecap="round" />
<polyline points="1061.9,91.4 1069.5,137.0" fill="none" stroke="#000" stroke-width="2.4" stroke-linejoin="round" stroke-linecap="round" />
<polyline points="1176.2,89.7 1133.2,107.5" fill="none" stroke="#000" stroke-width="2.4" stroke-linejoin="round" stroke-linecap="round" />
<polyline points="1182.2,91.5 1192.9,113.9" fill="none" stroke="#000" stroke-width="2.4" stroke-linejoin="round" stroke-linecap="round" />
<polyline points="1198.2,89.7 1213.1,107.5 1226.6,107.5" fill="none" stroke="#000" stroke-width="2.4" stroke-linejoin="round" stroke-linecap="round" />
<text x="896.8" y="124.8" font-size="25.5" class="an" textLength="57.2" lengthAdjust="spacingAndGlyphs">cyO2</text>
<text x="994.3" y="137.5" font-size="25.5" class="an" textLength="56.7" lengthAdjust="spacingAndGlyphs">cyO8</text>
<text x="1028.7" y="169.6" font-size="25.5" class="an" textLength="83.3" lengthAdjust="spacingAndGlyphs">mram8</text>
<text x="1098.5" y="139.8" font-size="25.5" class="an" textLength="68.0" lengthAdjust="spacingAndGlyphs">cyo12</text>
<text x="1181.5" y="146.3" font-size="25.5" class="an" textLength="23.8" lengthAdjust="spacingAndGlyphs">kS</text>
<text x="1239.0" y="117.9" font-size="25.5" class="an" textLength="40.8" lengthAdjust="spacingAndGlyphs">kB1</text>
<line x1="743.0" y1="513.8" x2="743.0" y2="783.1" stroke="#000" stroke-width="4.0" stroke-linecap="butt"/>
<line x1="741.0" y1="781.1" x2="1518.8" y2="781.1" stroke="#000" stroke-width="4.0" stroke-linecap="butt"/>
<line x1="742.9" y1="781.1" x2="742.9" y2="789.0" stroke="#000" stroke-width="3.4" stroke-linecap="butt"/>
<text x="742.9" y="825.4" font-size="28" text-anchor="middle" class="tk" textLength="27.4" lengthAdjust="spacingAndGlyphs">27</text>
<line x1="791.3" y1="781.1" x2="791.3" y2="789.0" stroke="#000" stroke-width="3.4" stroke-linecap="butt"/>
<text x="791.3" y="825.4" font-size="28" text-anchor="middle" class="tk" textLength="27.4" lengthAdjust="spacingAndGlyphs">28</text>
<line x1="839.7" y1="781.1" x2="839.7" y2="789.0" stroke="#000" stroke-width="3.4" stroke-linecap="butt"/>
<text x="839.7" y="825.4" font-size="28" text-anchor="middle" class="tk" textLength="27.4" lengthAdjust="spacingAndGlyphs">29</text>
<line x1="888.1" y1="781.1" x2="888.1" y2="789.0" stroke="#000" stroke-width="3.4" stroke-linecap="butt"/>
<text x="888.1" y="825.4" font-size="28" text-anchor="middle" class="tk" textLength="27.4" lengthAdjust="spacingAndGlyphs">30</text>
<line x1="936.5" y1="781.1" x2="936.5" y2="789.0" stroke="#000" stroke-width="3.4" stroke-linecap="butt"/>
<text x="936.5" y="825.4" font-size="28" text-anchor="middle" class="tk" textLength="27.4" lengthAdjust="spacingAndGlyphs">31</text>
<line x1="984.9" y1="781.1" x2="984.9" y2="789.0" stroke="#000" stroke-width="3.4" stroke-linecap="butt"/>
<text x="984.9" y="825.4" font-size="28" text-anchor="middle" class="tk" textLength="27.4" lengthAdjust="spacingAndGlyphs">32</text>
<line x1="1033.3" y1="781.1" x2="1033.3" y2="789.0" stroke="#000" stroke-width="3.4" stroke-linecap="butt"/>
<text x="1033.3" y="825.4" font-size="28" text-anchor="middle" class="tk" textLength="27.4" lengthAdjust="spacingAndGlyphs">33</text>
<line x1="1081.7" y1="781.1" x2="1081.7" y2="789.0" stroke="#000" stroke-width="3.4" stroke-linecap="butt"/>
<text x="1081.7" y="825.4" font-size="28" text-anchor="middle" class="tk" textLength="27.4" lengthAdjust="spacingAndGlyphs">34</text>
<line x1="1130.1" y1="781.1" x2="1130.1" y2="789.0" stroke="#000" stroke-width="3.4" stroke-linecap="butt"/>
<text x="1130.1" y="825.4" font-size="28" text-anchor="middle" class="tk" textLength="27.4" lengthAdjust="spacingAndGlyphs">35</text>
<line x1="1178.5" y1="781.1" x2="1178.5" y2="789.0" stroke="#000" stroke-width="3.4" stroke-linecap="butt"/>
<text x="1178.5" y="825.4" font-size="28" text-anchor="middle" class="tk" textLength="27.4" lengthAdjust="spacingAndGlyphs">36</text>
<line x1="1226.9" y1="781.1" x2="1226.9" y2="789.0" stroke="#000" stroke-width="3.4" stroke-linecap="butt"/>
<text x="1226.9" y="825.4" font-size="28" text-anchor="middle" class="tk" textLength="27.4" lengthAdjust="spacingAndGlyphs">37</text>
<line x1="1275.3" y1="781.1" x2="1275.3" y2="789.0" stroke="#000" stroke-width="3.4" stroke-linecap="butt"/>
<text x="1275.3" y="825.4" font-size="28" text-anchor="middle" class="tk" textLength="27.4" lengthAdjust="spacingAndGlyphs">38</text>
<line x1="1323.7" y1="781.1" x2="1323.7" y2="789.0" stroke="#000" stroke-width="3.4" stroke-linecap="butt"/>
<text x="1323.7" y="825.4" font-size="28" text-anchor="middle" class="tk" textLength="27.4" lengthAdjust="spacingAndGlyphs">39</text>
<line x1="1372.1" y1="781.1" x2="1372.1" y2="789.0" stroke="#000" stroke-width="3.4" stroke-linecap="butt"/>
<text x="1372.1" y="825.4" font-size="28" text-anchor="middle" class="tk" textLength="27.4" lengthAdjust="spacingAndGlyphs">40</text>
<line x1="1420.5" y1="781.1" x2="1420.5" y2="789.0" stroke="#000" stroke-width="3.4" stroke-linecap="butt"/>
<text x="1420.5" y="825.4" font-size="28" text-anchor="middle" class="tk" textLength="27.4" lengthAdjust="spacingAndGlyphs">41</text>
<line x1="1468.9" y1="781.1" x2="1468.9" y2="789.0" stroke="#000" stroke-width="3.4" stroke-linecap="butt"/>
<text x="1468.9" y="825.4" font-size="28" text-anchor="middle" class="tk" textLength="27.4" lengthAdjust="spacingAndGlyphs">42</text>
<line x1="1517.3" y1="781.1" x2="1517.3" y2="789.0" stroke="#000" stroke-width="3.4" stroke-linecap="butt"/>
<text x="1517.3" y="825.4" font-size="28" text-anchor="middle" class="tk" textLength="27.4" lengthAdjust="spacingAndGlyphs">43</text>
<line x1="732.3" y1="528.5" x2="741.0" y2="528.5" stroke="#000" stroke-width="2.6" stroke-linecap="butt"/>
<text x="712.4" y="536.7" font-size="31" text-anchor="middle" class="hml">H</text>
<line x1="732.3" y1="646.9" x2="741.0" y2="646.9" stroke="#000" stroke-width="2.6" stroke-linecap="butt"/>
<text x="712.4" y="656.3" font-size="31" text-anchor="middle" class="hml">M</text>
<line x1="732.3" y1="759.1" x2="741.0" y2="759.1" stroke="#000" stroke-width="2.6" stroke-linecap="butt"/>
<text x="712.4" y="765.8" font-size="31" text-anchor="middle" class="hml">L</text>
<text transform="translate(689.0 707.7) rotate(-90)" font-size="30" class="lb" textLength="144.0" lengthAdjust="spacing">Abundance</text>
<text x="1260.0" y="864.2" font-size="30" class="lb" textLength="271.9" lengthAdjust="spacing">Retention time [mins]</text>
<path d="M980.2 535.5H992.5M986.4 529.4V541.6" stroke="#000" stroke-width="3.4" fill="none"/>
<path d="M1023.9 535.5H1036.2M1030.0 529.4V541.6" stroke="#000" stroke-width="3.4" fill="none"/>
<path d="M1040.4 535.5H1052.8M1046.6 529.4V541.6" stroke="#000" stroke-width="3.4" fill="none"/>
<path d="M1066.8 535.5H1079.1M1072.9 529.4V541.6" stroke="#000" stroke-width="3.4" fill="none"/>
<path d="M1089.2 535.5H1101.6M1095.4 529.4V541.6" stroke="#000" stroke-width="3.4" fill="none"/>
<path d="M1182.0 535.5H1194.4M1188.2 529.4V541.6" stroke="#000" stroke-width="3.4" fill="none"/>
<path d="M965.0 646.5H977.2M971.1 640.4V652.6" stroke="#000" stroke-width="3.4" fill="none"/>
<path d="M1136.9 646.5H1149.2M1143.1 640.4V652.6" stroke="#000" stroke-width="3.4" fill="none"/>
<path d="M1146.9 646.5H1159.2M1153.1 640.4V652.6" stroke="#000" stroke-width="3.4" fill="none"/>
<path d="M1166.4 646.5H1178.8M1172.6 640.4V652.6" stroke="#000" stroke-width="3.4" fill="none"/>
<path d="M1277.9 646.5H1290.2M1284.1 640.4V652.6" stroke="#000" stroke-width="3.4" fill="none"/>
<path d="M823.6 757.8H835.9M829.8 751.6V763.9" stroke="#000" stroke-width="3.4" fill="none"/>
<path d="M947.1 757.8H959.4M953.2 751.6V763.9" stroke="#000" stroke-width="3.4" fill="none"/>
<path d="M980.2 757.8H992.5M986.4 751.6V763.9" stroke="#000" stroke-width="3.4" fill="none"/>
<path d="M1008.1 757.8H1020.4M1014.3 751.6V763.9" stroke="#000" stroke-width="3.4" fill="none"/>
<path d="M1032.2 757.8H1044.6M1038.4 751.6V763.9" stroke="#000" stroke-width="3.4" fill="none"/>
<path d="M1043.9 757.8H1056.2M1050.1 751.6V763.9" stroke="#000" stroke-width="3.4" fill="none"/>
<path d="M1105.8 757.8H1118.1M1111.9 751.6V763.9" stroke="#000" stroke-width="3.4" fill="none"/>
<path d="M1155.8 757.8H1168.2M1162.0 751.6V763.9" stroke="#000" stroke-width="3.4" fill="none"/>
<path d="M1169.6 757.8H1182.0M1175.8 751.6V763.9" stroke="#000" stroke-width="3.4" fill="none"/>
<path d="M1187.4 757.8H1199.8M1193.6 751.6V763.9" stroke="#000" stroke-width="3.4" fill="none"/>
<path d="M1202.6 757.8H1215.0M1208.8 751.6V763.9" stroke="#000" stroke-width="3.4" fill="none"/>
<path d="M1206.9 757.8H1219.2M1213.1 751.6V763.9" stroke="#000" stroke-width="3.4" fill="none"/>
<circle cx="1008.4" cy="535.5" r="7.4" fill="none" stroke="#000" stroke-width="3.5"/>
<circle cx="1054.4" cy="535.5" r="7.4" fill="none" stroke="#000" stroke-width="3.5"/>
<circle cx="1169.1" cy="535.7" r="7.4" fill="none" stroke="#000" stroke-width="3.5"/>
<circle cx="1296.2" cy="535.7" r="7.4" fill="none" stroke="#000" stroke-width="3.5"/>
<circle cx="1050.1" cy="756.9" r="7.4" fill="none" stroke="#000" stroke-width="3.5"/>
<polyline points="1010.3,536.0 996.1,580.5 982.6,580.5" fill="none" stroke="#000" stroke-width="2.4" stroke-linejoin="round" stroke-linecap="round" />
<polyline points="1055.4,536.0 1077.4,558.4" fill="none" stroke="#000" stroke-width="2.4" stroke-linejoin="round" stroke-linecap="round" />
<polyline points="1169.3,536.5 1164.4,564.5" fill="none" stroke="#000" stroke-width="2.4" stroke-linejoin="round" stroke-linecap="round" />
<polyline points="1188.2,536.8 1201.7,584.7 1215.9,584.7" fill="none" stroke="#000" stroke-width="2.4" stroke-linejoin="round" stroke-linecap="round" />
<polyline points="1295.6,536.5 1305.4,571.6 1319.6,571.6" fill="none" stroke="#000" stroke-width="2.4" stroke-linejoin="round" stroke-linecap="round" />
<polyline points="1050.1,756.9 1062.8,715.9 1076.6,715.9" fill="none" stroke="#000" stroke-width="2.4" stroke-linejoin="round" stroke-linecap="round" />
<text x="899.7" y="589.9" font-size="25.5" class="an" textLength="72.0" lengthAdjust="spacingAndGlyphs">cyO13</text>
<text x="1036.0" y="590.7" font-size="25.5" class="an" textLength="82.0" lengthAdjust="spacingAndGlyphs">mram8</text>
<text x="1152.0" y="593.5" font-size="25.5" class="an" textLength="24.9" lengthAdjust="spacingAndGlyphs">kS</text>
<text x="1227.3" y="593.5" font-size="25.5" class="an" textLength="41.2" lengthAdjust="spacingAndGlyphs">kB1</text>
<text x="1330.6" y="581.1" font-size="25.5" class="an" textLength="76.0" lengthAdjust="spacingAndGlyphs">viba12</text>
<text x="1087.3" y="725.3" font-size="25.5" class="an" textLength="132.2" lengthAdjust="spacingAndGlyphs">verec1-HS3</text>
<line x1="740.0" y1="1016.7" x2="740.0" y2="1294.4" stroke="#000" stroke-width="4.0" stroke-linecap="butt"/>
<line x1="738.0" y1="1292.4" x2="1494.6" y2="1292.4" stroke="#000" stroke-width="4.0" stroke-linecap="butt"/>
<line x1="739.8" y1="1292.4" x2="739.8" y2="1301.8" stroke="#000" stroke-width="3.4" stroke-linecap="butt"/>
<text x="739.8" y="1336.2" font-size="28" text-anchor="middle" class="tk" textLength="27.4" lengthAdjust="spacingAndGlyphs">27</text>
<line x1="786.9" y1="1292.4" x2="786.9" y2="1301.8" stroke="#000" stroke-width="3.4" stroke-linecap="butt"/>
<text x="786.9" y="1336.2" font-size="28" text-anchor="middle" class="tk" textLength="27.4" lengthAdjust="spacingAndGlyphs">28</text>
<line x1="834.0" y1="1292.4" x2="834.0" y2="1301.8" stroke="#000" stroke-width="3.4" stroke-linecap="butt"/>
<text x="834.0" y="1336.2" font-size="28" text-anchor="middle" class="tk" textLength="27.4" lengthAdjust="spacingAndGlyphs">29</text>
<line x1="881.0" y1="1292.4" x2="881.0" y2="1301.8" stroke="#000" stroke-width="3.4" stroke-linecap="butt"/>
<text x="881.0" y="1336.2" font-size="28" text-anchor="middle" class="tk" textLength="27.4" lengthAdjust="spacingAndGlyphs">30</text>
<line x1="928.1" y1="1292.4" x2="928.1" y2="1301.8" stroke="#000" stroke-width="3.4" stroke-linecap="butt"/>
<text x="928.1" y="1336.2" font-size="28" text-anchor="middle" class="tk" textLength="27.4" lengthAdjust="spacingAndGlyphs">31</text>
<line x1="975.2" y1="1292.4" x2="975.2" y2="1301.8" stroke="#000" stroke-width="3.4" stroke-linecap="butt"/>
<text x="975.2" y="1336.2" font-size="28" text-anchor="middle" class="tk" textLength="27.4" lengthAdjust="spacingAndGlyphs">32</text>
<line x1="1022.3" y1="1292.4" x2="1022.3" y2="1301.8" stroke="#000" stroke-width="3.4" stroke-linecap="butt"/>
<text x="1022.3" y="1336.2" font-size="28" text-anchor="middle" class="tk" textLength="27.4" lengthAdjust="spacingAndGlyphs">33</text>
<line x1="1069.4" y1="1292.4" x2="1069.4" y2="1301.8" stroke="#000" stroke-width="3.4" stroke-linecap="butt"/>
<text x="1069.4" y="1336.2" font-size="28" text-anchor="middle" class="tk" textLength="27.4" lengthAdjust="spacingAndGlyphs">34</text>
<line x1="1116.4" y1="1292.4" x2="1116.4" y2="1301.8" stroke="#000" stroke-width="3.4" stroke-linecap="butt"/>
<text x="1116.4" y="1336.2" font-size="28" text-anchor="middle" class="tk" textLength="27.4" lengthAdjust="spacingAndGlyphs">35</text>
<line x1="1163.5" y1="1292.4" x2="1163.5" y2="1301.8" stroke="#000" stroke-width="3.4" stroke-linecap="butt"/>
<text x="1163.5" y="1336.2" font-size="28" text-anchor="middle" class="tk" textLength="27.4" lengthAdjust="spacingAndGlyphs">36</text>
<line x1="1210.6" y1="1292.4" x2="1210.6" y2="1301.8" stroke="#000" stroke-width="3.4" stroke-linecap="butt"/>
<text x="1210.6" y="1336.2" font-size="28" text-anchor="middle" class="tk" textLength="27.4" lengthAdjust="spacingAndGlyphs">37</text>
<line x1="1257.7" y1="1292.4" x2="1257.7" y2="1301.8" stroke="#000" stroke-width="3.4" stroke-linecap="butt"/>
<text x="1257.7" y="1336.2" font-size="28" text-anchor="middle" class="tk" textLength="27.4" lengthAdjust="spacingAndGlyphs">38</text>
<line x1="1304.8" y1="1292.4" x2="1304.8" y2="1301.8" stroke="#000" stroke-width="3.4" stroke-linecap="butt"/>
<text x="1304.8" y="1336.2" font-size="28" text-anchor="middle" class="tk" textLength="27.4" lengthAdjust="spacingAndGlyphs">39</text>
<line x1="1351.8" y1="1292.4" x2="1351.8" y2="1301.8" stroke="#000" stroke-width="3.4" stroke-linecap="butt"/>
<text x="1351.8" y="1336.2" font-size="28" text-anchor="middle" class="tk" textLength="27.4" lengthAdjust="spacingAndGlyphs">40</text>
<line x1="1398.9" y1="1292.4" x2="1398.9" y2="1301.8" stroke="#000" stroke-width="3.4" stroke-linecap="butt"/>
<text x="1398.9" y="1336.2" font-size="28" text-anchor="middle" class="tk" textLength="27.4" lengthAdjust="spacingAndGlyphs">41</text>
<line x1="1446.0" y1="1292.4" x2="1446.0" y2="1301.8" stroke="#000" stroke-width="3.4" stroke-linecap="butt"/>
<text x="1446.0" y="1336.2" font-size="28" text-anchor="middle" class="tk" textLength="27.4" lengthAdjust="spacingAndGlyphs">42</text>
<line x1="1493.1" y1="1292.4" x2="1493.1" y2="1301.8" stroke="#000" stroke-width="3.4" stroke-linecap="butt"/>
<text x="1493.1" y="1336.2" font-size="28" text-anchor="middle" class="tk" textLength="27.4" lengthAdjust="spacingAndGlyphs">43</text>
<line x1="725.2" y1="1036.4" x2="737.0" y2="1036.4" stroke="#000" stroke-width="2.6" stroke-linecap="butt"/>
<text x="703.6" y="1045.2" font-size="31" text-anchor="middle" class="hml">H</text>
<line x1="725.2" y1="1153.3" x2="737.0" y2="1153.3" stroke="#000" stroke-width="2.6" stroke-linecap="butt"/>
<text x="703.6" y="1162.7" font-size="31" text-anchor="middle" class="hml">M</text>
<line x1="725.2" y1="1264.1" x2="737.0" y2="1264.1" stroke="#000" stroke-width="2.6" stroke-linecap="butt"/>
<text x="703.6" y="1269.4" font-size="31" text-anchor="middle" class="hml">L</text>
<text transform="translate(680.5 1219.4) rotate(-90)" font-size="30" class="lb" textLength="141.0" lengthAdjust="spacing">Abundance</text>
<text x="1251.1" y="1375.4" font-size="30" class="lb" textLength="266.6" lengthAdjust="spacing">Retention time [mins]</text>
<path d="M920.9 1040.8H936.1M928.5 1033.1V1048.5" stroke="#000" stroke-width="3.2" fill="none"/>
<path d="M953.5 1040.8H968.8M961.1 1033.1V1048.5" stroke="#000" stroke-width="3.2" fill="none"/>
<path d="M980.5 1040.8H995.8M988.1 1033.1V1048.5" stroke="#000" stroke-width="3.2" fill="none"/>
<path d="M984.9 1040.8H1000.1M992.5 1033.1V1048.5" stroke="#000" stroke-width="3.2" fill="none"/>
<path d="M1013.9 1040.8H1029.2M1021.5 1033.1V1048.5" stroke="#000" stroke-width="3.2" fill="none"/>
<path d="M1030.5 1040.8H1045.9M1038.2 1033.1V1048.5" stroke="#000" stroke-width="3.2" fill="none"/>
<path d="M1076.3 1040.8H1091.7M1084.0 1033.1V1048.5" stroke="#000" stroke-width="3.2" fill="none"/>
<path d="M1124.8 1040.8H1140.2M1132.5 1033.1V1048.5" stroke="#000" stroke-width="3.2" fill="none"/>
<path d="M1137.2 1040.8H1152.6M1144.9 1033.1V1048.5" stroke="#000" stroke-width="3.2" fill="none"/>
<path d="M807.8 1153.9H823.0M815.4 1146.2V1161.6" stroke="#000" stroke-width="3.2" fill="none"/>
<path d="M978.4 1153.9H993.6M986.0 1146.2V1161.6" stroke="#000" stroke-width="3.2" fill="none"/>
<path d="M987.9 1153.9H1003.1M995.5 1146.2V1161.6" stroke="#000" stroke-width="3.2" fill="none"/>
<path d="M794.6 1271.0H809.9M802.2 1263.3V1278.7" stroke="#000" stroke-width="3.2" fill="none"/>
<path d="M920.9 1271.0H936.1M928.5 1263.3V1278.7" stroke="#000" stroke-width="3.2" fill="none"/>
<path d="M953.5 1271.0H968.8M961.1 1263.3V1278.7" stroke="#000" stroke-width="3.2" fill="none"/>
<path d="M981.1 1271.0H996.4M988.7 1263.3V1278.7" stroke="#000" stroke-width="3.2" fill="none"/>
<path d="M1008.9 1271.0H1024.2M1016.5 1263.3V1278.7" stroke="#000" stroke-width="3.2" fill="none"/>
<path d="M1072.8 1271.0H1088.1M1080.4 1263.3V1278.7" stroke="#000" stroke-width="3.2" fill="none"/>
<path d="M1077.1 1271.0H1092.5M1084.8 1263.3V1278.7" stroke="#000" stroke-width="3.2" fill="none"/>
<path d="M1378.8 1271.0H1394.1M1386.4 1263.3V1278.7" stroke="#000" stroke-width="3.2" fill="none"/>
<circle cx="1020.8" cy="1035.3" r="5.6" fill="none" stroke="#000" stroke-width="3.3"/>
<polyline points="1019.0,1040.2 1000.5,1054.3" fill="none" stroke="#000" stroke-width="2.4" stroke-linejoin="round" stroke-linecap="round" />
<polyline points="1144.5,1039.6 1149.8,1023.3 1163.4,1023.3" fill="none" stroke="#000" stroke-width="2.4" stroke-linejoin="round" stroke-linecap="round" />
<polyline points="1146.0,1042.1 1146.0,1073.4 1161.6,1073.4" fill="none" stroke="#000" stroke-width="2.4" stroke-linejoin="round" stroke-linecap="round" />
<text x="959.3" y="1085.2" font-size="25.5" class="an" textLength="80.8" lengthAdjust="spacingAndGlyphs">mram8</text>
<text x="1174.4" y="1031.5" font-size="25.5" class="an" textLength="23.8" lengthAdjust="spacingAndGlyphs">kS</text>
<text x="1172.3" y="1082.3" font-size="25.5" class="an" textLength="40.1" lengthAdjust="spacingAndGlyphs">kB1</text>
<line x1="749.2" y1="1490.3" x2="749.2" y2="1771.1" stroke="#000" stroke-width="4.0" stroke-linecap="butt"/>
<line x1="747.2" y1="1769.1" x2="1494.5" y2="1769.1" stroke="#000" stroke-width="4.0" stroke-linecap="butt"/>
<line x1="749.0" y1="1769.1" x2="749.0" y2="1778.0" stroke="#000" stroke-width="3.4" stroke-linecap="butt"/>
<text x="749.0" y="1814.0" font-size="28" text-anchor="middle" class="tk" textLength="27.4" lengthAdjust="spacingAndGlyphs">27</text>
<line x1="795.5" y1="1769.1" x2="795.5" y2="1778.0" stroke="#000" stroke-width="3.4" stroke-linecap="butt"/>
<text x="795.5" y="1814.0" font-size="28" text-anchor="middle" class="tk" textLength="27.4" lengthAdjust="spacingAndGlyphs">28</text>
<line x1="842.0" y1="1769.1" x2="842.0" y2="1778.0" stroke="#000" stroke-width="3.4" stroke-linecap="butt"/>
<text x="842.0" y="1814.0" font-size="28" text-anchor="middle" class="tk" textLength="27.4" lengthAdjust="spacingAndGlyphs">29</text>
<line x1="888.5" y1="1769.1" x2="888.5" y2="1778.0" stroke="#000" stroke-width="3.4" stroke-linecap="butt"/>
<text x="888.5" y="1814.0" font-size="28" text-anchor="middle" class="tk" textLength="27.4" lengthAdjust="spacingAndGlyphs">30</text>
<line x1="935.0" y1="1769.1" x2="935.0" y2="1778.0" stroke="#000" stroke-width="3.4" stroke-linecap="butt"/>
<text x="935.0" y="1814.0" font-size="28" text-anchor="middle" class="tk" textLength="27.4" lengthAdjust="spacingAndGlyphs">31</text>
<line x1="981.5" y1="1769.1" x2="981.5" y2="1778.0" stroke="#000" stroke-width="3.4" stroke-linecap="butt"/>
<text x="981.5" y="1814.0" font-size="28" text-anchor="middle" class="tk" textLength="27.4" lengthAdjust="spacingAndGlyphs">32</text>
<line x1="1028.0" y1="1769.1" x2="1028.0" y2="1778.0" stroke="#000" stroke-width="3.4" stroke-linecap="butt"/>
<text x="1028.0" y="1814.0" font-size="28" text-anchor="middle" class="tk" textLength="27.4" lengthAdjust="spacingAndGlyphs">33</text>
<line x1="1074.5" y1="1769.1" x2="1074.5" y2="1778.0" stroke="#000" stroke-width="3.4" stroke-linecap="butt"/>
<text x="1074.5" y="1814.0" font-size="28" text-anchor="middle" class="tk" textLength="27.4" lengthAdjust="spacingAndGlyphs">34</text>
<line x1="1121.0" y1="1769.1" x2="1121.0" y2="1778.0" stroke="#000" stroke-width="3.4" stroke-linecap="butt"/>
<text x="1121.0" y="1814.0" font-size="28" text-anchor="middle" class="tk" textLength="27.4" lengthAdjust="spacingAndGlyphs">35</text>
<line x1="1167.5" y1="1769.1" x2="1167.5" y2="1778.0" stroke="#000" stroke-width="3.4" stroke-linecap="butt"/>
<text x="1167.5" y="1814.0" font-size="28" text-anchor="middle" class="tk" textLength="27.4" lengthAdjust="spacingAndGlyphs">36</text>
<line x1="1214.0" y1="1769.1" x2="1214.0" y2="1778.0" stroke="#000" stroke-width="3.4" stroke-linecap="butt"/>
<text x="1214.0" y="1814.0" font-size="28" text-anchor="middle" class="tk" textLength="27.4" lengthAdjust="spacingAndGlyphs">37</text>
<line x1="1260.5" y1="1769.1" x2="1260.5" y2="1778.0" stroke="#000" stroke-width="3.4" stroke-linecap="butt"/>
<text x="1260.5" y="1814.0" font-size="28" text-anchor="middle" class="tk" textLength="27.4" lengthAdjust="spacingAndGlyphs">38</text>
<line x1="1307.0" y1="1769.1" x2="1307.0" y2="1778.0" stroke="#000" stroke-width="3.4" stroke-linecap="butt"/>
<text x="1307.0" y="1814.0" font-size="28" text-anchor="middle" class="tk" textLength="27.4" lengthAdjust="spacingAndGlyphs">39</text>
<line x1="1353.5" y1="1769.1" x2="1353.5" y2="1778.0" stroke="#000" stroke-width="3.4" stroke-linecap="butt"/>
<text x="1353.5" y="1814.0" font-size="28" text-anchor="middle" class="tk" textLength="27.4" lengthAdjust="spacingAndGlyphs">40</text>
<line x1="1400.0" y1="1769.1" x2="1400.0" y2="1778.0" stroke="#000" stroke-width="3.4" stroke-linecap="butt"/>
<text x="1400.0" y="1814.0" font-size="28" text-anchor="middle" class="tk" textLength="27.4" lengthAdjust="spacingAndGlyphs">41</text>
<line x1="1446.5" y1="1769.1" x2="1446.5" y2="1778.0" stroke="#000" stroke-width="3.4" stroke-linecap="butt"/>
<text x="1446.5" y="1814.0" font-size="28" text-anchor="middle" class="tk" textLength="27.4" lengthAdjust="spacingAndGlyphs">42</text>
<line x1="1493.0" y1="1769.1" x2="1493.0" y2="1778.0" stroke="#000" stroke-width="3.4" stroke-linecap="butt"/>
<text x="1493.0" y="1814.0" font-size="28" text-anchor="middle" class="tk" textLength="27.4" lengthAdjust="spacingAndGlyphs">43</text>
<line x1="735.8" y1="1516.4" x2="747.0" y2="1516.4" stroke="#000" stroke-width="2.6" stroke-linecap="butt"/>
<text x="714.3" y="1525.2" font-size="31" text-anchor="middle" class="hml">H</text>
<line x1="735.8" y1="1632.4" x2="747.0" y2="1632.4" stroke="#000" stroke-width="2.6" stroke-linecap="butt"/>
<text x="714.3" y="1642.1" font-size="31" text-anchor="middle" class="hml">M</text>
<line x1="735.8" y1="1743.5" x2="747.0" y2="1743.5" stroke="#000" stroke-width="2.6" stroke-linecap="butt"/>
<text x="714.3" y="1749.4" font-size="31" text-anchor="middle" class="hml">L</text>
<text transform="translate(691.0 1698.0) rotate(-90)" font-size="30" class="lb" textLength="141.0" lengthAdjust="spacing">Abundance</text>
<text x="1276.7" y="1852.3" font-size="30" class="lb" textLength="266.5" lengthAdjust="spacing">Retention time [mins]</text>
<path d="M867.8 1514.8H880.0M873.9 1508.6V1521.0" stroke="#000" stroke-width="3.4" fill="none"/>
<path d="M1053.8 1514.8H1066.2M1060.0 1508.6V1521.0" stroke="#000" stroke-width="3.4" fill="none"/>
<path d="M1086.5 1514.8H1098.9M1092.7 1508.6V1521.0" stroke="#000" stroke-width="3.4" fill="none"/>
<path d="M930.2 1630.4H942.5M936.4 1624.2V1636.6" stroke="#000" stroke-width="3.4" fill="none"/>
<path d="M935.6 1630.4H947.9M941.7 1624.2V1636.6" stroke="#000" stroke-width="3.4" fill="none"/>
<path d="M943.5 1630.4H955.8M949.6 1624.2V1636.6" stroke="#000" stroke-width="3.4" fill="none"/>
<path d="M982.2 1630.4H994.5M988.4 1624.2V1636.6" stroke="#000" stroke-width="3.4" fill="none"/>
<path d="M1006.4 1630.4H1018.6M1012.5 1624.2V1636.6" stroke="#000" stroke-width="3.4" fill="none"/>
<path d="M777.0 1747.0H789.2M783.1 1740.8V1753.2" stroke="#000" stroke-width="3.4" fill="none"/>
<path d="M947.9 1747.0H960.1M954.0 1740.8V1753.2" stroke="#000" stroke-width="3.4" fill="none"/>
<path d="M951.8 1747.0H964.0M957.9 1740.8V1753.2" stroke="#000" stroke-width="3.4" fill="none"/>
<path d="M962.1 1747.0H974.4M968.2 1740.8V1753.2" stroke="#000" stroke-width="3.4" fill="none"/>
<path d="M966.1 1747.0H978.4M972.3 1740.8V1753.2" stroke="#000" stroke-width="3.4" fill="none"/>
<path d="M982.2 1747.0H994.5M988.4 1740.8V1753.2" stroke="#000" stroke-width="3.4" fill="none"/>
<path d="M1071.2 1747.0H1083.6M1077.4 1740.8V1753.2" stroke="#000" stroke-width="3.4" fill="none"/>
<path d="M1150.6 1747.0H1163.0M1156.8 1740.8V1753.2" stroke="#000" stroke-width="3.4" fill="none"/>
<path d="M1152.2 1747.3H1164.6M1158.4 1741.1V1753.5" stroke="#000" stroke-width="3.4" fill="none"/>
<circle cx="982.0" cy="1513.5" r="7.4" fill="none" stroke="#000" stroke-width="3.5"/>
<circle cx="837.1" cy="1629.8" r="7.4" fill="none" stroke="#000" stroke-width="3.5"/>
<circle cx="868.3" cy="1745.0" r="7.4" fill="none" stroke="#000" stroke-width="3.5"/>
<polyline points="982.5,1514.5 997.5,1535.8" fill="none" stroke="#000" stroke-width="2.4" stroke-linejoin="round" stroke-linecap="round" />
<polyline points="837.6,1630.0 850.6,1592.2 863.9,1592.2" fill="none" stroke="#000" stroke-width="2.4" stroke-linejoin="round" stroke-linecap="round" />
<polyline points="868.5,1745.0 872.7,1711.8 886.5,1711.8" fill="none" stroke="#000" stroke-width="2.4" stroke-linejoin="round" stroke-linecap="round" />
<polyline points="1156.3,1744.0 1168.0,1702.1 1180.4,1702.1" fill="none" stroke="#000" stroke-width="2.4" stroke-linejoin="round" stroke-linecap="round" />
<polyline points="1157.3,1744.0 1164.4,1733.4 1179.7,1733.4" fill="none" stroke="#000" stroke-width="2.4" stroke-linejoin="round" stroke-linecap="round" />
<text x="969.3" y="1565.8" font-size="25.5" class="an" textLength="56.7" lengthAdjust="spacingAndGlyphs">cyO2</text>
<text x="874.1" y="1601.6" font-size="25.5" class="an" textLength="118.7" lengthAdjust="spacingAndGlyphs">valta1-YS4</text>
<text x="896.8" y="1721.2" font-size="25.5" class="an" textLength="120.4" lengthAdjust="spacingAndGlyphs">valta1-RS2</text>
<text x="1189.3" y="1710.9" font-size="25.5" class="an" textLength="24.1" lengthAdjust="spacingAndGlyphs">kS</text>
<text x="1190.4" y="1742.2" font-size="25.5" class="an" textLength="40.4" lengthAdjust="spacingAndGlyphs">kB1</text>
<line x1="740.5" y1="1981.0" x2="740.5" y2="2277.2" stroke="#000" stroke-width="4.0" stroke-linecap="butt"/>
<line x1="738.5" y1="2275.2" x2="1518.0" y2="2275.2" stroke="#000" stroke-width="4.0" stroke-linecap="butt"/>
<line x1="741.0" y1="2275.2" x2="741.0" y2="2284.2" stroke="#000" stroke-width="3.4" stroke-linecap="butt"/>
<text x="741.0" y="2321.4" font-size="28" text-anchor="middle" class="tk" textLength="27.4" lengthAdjust="spacingAndGlyphs">27</text>
<line x1="789.5" y1="2275.2" x2="789.5" y2="2284.2" stroke="#000" stroke-width="3.4" stroke-linecap="butt"/>
<text x="789.5" y="2321.4" font-size="28" text-anchor="middle" class="tk" textLength="27.4" lengthAdjust="spacingAndGlyphs">28</text>
<line x1="837.9" y1="2275.2" x2="837.9" y2="2284.2" stroke="#000" stroke-width="3.4" stroke-linecap="butt"/>
<text x="837.9" y="2321.4" font-size="28" text-anchor="middle" class="tk" textLength="27.4" lengthAdjust="spacingAndGlyphs">29</text>
<line x1="886.4" y1="2275.2" x2="886.4" y2="2284.2" stroke="#000" stroke-width="3.4" stroke-linecap="butt"/>
<text x="886.4" y="2321.4" font-size="28" text-anchor="middle" class="tk" textLength="27.4" lengthAdjust="spacingAndGlyphs">30</text>
<line x1="934.9" y1="2275.2" x2="934.9" y2="2284.2" stroke="#000" stroke-width="3.4" stroke-linecap="butt"/>
<text x="934.9" y="2321.4" font-size="28" text-anchor="middle" class="tk" textLength="27.4" lengthAdjust="spacingAndGlyphs">31</text>
<line x1="983.4" y1="2275.2" x2="983.4" y2="2284.2" stroke="#000" stroke-width="3.4" stroke-linecap="butt"/>
<text x="983.4" y="2321.4" font-size="28" text-anchor="middle" class="tk" textLength="27.4" lengthAdjust="spacingAndGlyphs">32</text>
<line x1="1031.8" y1="2275.2" x2="1031.8" y2="2284.2" stroke="#000" stroke-width="3.4" stroke-linecap="butt"/>
<text x="1031.8" y="2321.4" font-size="28" text-anchor="middle" class="tk" textLength="27.4" lengthAdjust="spacingAndGlyphs">33</text>
<line x1="1080.3" y1="2275.2" x2="1080.3" y2="2284.2" stroke="#000" stroke-width="3.4" stroke-linecap="butt"/>
<text x="1080.3" y="2321.4" font-size="28" text-anchor="middle" class="tk" textLength="27.4" lengthAdjust="spacingAndGlyphs">34</text>
<line x1="1128.8" y1="2275.2" x2="1128.8" y2="2284.2" stroke="#000" stroke-width="3.4" stroke-linecap="butt"/>
<text x="1128.8" y="2321.4" font-size="28" text-anchor="middle" class="tk" textLength="27.4" lengthAdjust="spacingAndGlyphs">35</text>
<line x1="1177.2" y1="2275.2" x2="1177.2" y2="2284.2" stroke="#000" stroke-width="3.4" stroke-linecap="butt"/>
<text x="1177.2" y="2321.4" font-size="28" text-anchor="middle" class="tk" textLength="27.4" lengthAdjust="spacingAndGlyphs">36</text>
<line x1="1225.7" y1="2275.2" x2="1225.7" y2="2284.2" stroke="#000" stroke-width="3.4" stroke-linecap="butt"/>
<text x="1225.7" y="2321.4" font-size="28" text-anchor="middle" class="tk" textLength="27.4" lengthAdjust="spacingAndGlyphs">37</text>
<line x1="1274.2" y1="2275.2" x2="1274.2" y2="2284.2" stroke="#000" stroke-width="3.4" stroke-linecap="butt"/>
<text x="1274.2" y="2321.4" font-size="28" text-anchor="middle" class="tk" textLength="27.4" lengthAdjust="spacingAndGlyphs">38</text>
<line x1="1322.6" y1="2275.2" x2="1322.6" y2="2284.2" stroke="#000" stroke-width="3.4" stroke-linecap="butt"/>
<text x="1322.6" y="2321.4" font-size="28" text-anchor="middle" class="tk" textLength="27.4" lengthAdjust="spacingAndGlyphs">39</text>
<line x1="1371.1" y1="2275.2" x2="1371.1" y2="2284.2" stroke="#000" stroke-width="3.4" stroke-linecap="butt"/>
<text x="1371.1" y="2321.4" font-size="28" text-anchor="middle" class="tk" textLength="27.4" lengthAdjust="spacingAndGlyphs">40</text>
<line x1="1419.6" y1="2275.2" x2="1419.6" y2="2284.2" stroke="#000" stroke-width="3.4" stroke-linecap="butt"/>
<text x="1419.6" y="2321.4" font-size="28" text-anchor="middle" class="tk" textLength="27.4" lengthAdjust="spacingAndGlyphs">41</text>
<line x1="1468.0" y1="2275.2" x2="1468.0" y2="2284.2" stroke="#000" stroke-width="3.4" stroke-linecap="butt"/>
<text x="1468.0" y="2321.4" font-size="28" text-anchor="middle" class="tk" textLength="27.4" lengthAdjust="spacingAndGlyphs">42</text>
<line x1="1516.5" y1="2275.2" x2="1516.5" y2="2284.2" stroke="#000" stroke-width="3.4" stroke-linecap="butt"/>
<text x="1516.5" y="2321.4" font-size="28" text-anchor="middle" class="tk" textLength="27.4" lengthAdjust="spacingAndGlyphs">43</text>
<line x1="730.5" y1="2010.4" x2="739.0" y2="2010.4" stroke="#000" stroke-width="2.6" stroke-linecap="butt"/>
<text x="709.3" y="2019.2" font-size="31" text-anchor="middle" class="hml">H</text>
<line x1="730.5" y1="2130.0" x2="739.0" y2="2130.0" stroke="#000" stroke-width="2.6" stroke-linecap="butt"/>
<text x="709.3" y="2140.3" font-size="31" text-anchor="middle" class="hml">M</text>
<line x1="730.5" y1="2243.1" x2="739.0" y2="2243.1" stroke="#000" stroke-width="2.6" stroke-linecap="butt"/>
<text x="709.3" y="2249.8" font-size="31" text-anchor="middle" class="hml">L</text>
<text transform="translate(679.6 2195.2) rotate(-90)" font-size="30" class="lb" textLength="144.5" lengthAdjust="spacing">Abundance</text>
<text x="1285.6" y="2355.9" font-size="30" class="lb" textLength="270.4" lengthAdjust="spacing">Retention time [mins]</text>
<path d="M955.9 2005.0H970.4M963.1 1997.8V2012.2" stroke="#000" stroke-width="3.8" fill="none"/>
<path d="M966.1 2005.0H980.6M973.4 1997.8V2012.2" stroke="#000" stroke-width="3.8" fill="none"/>
<path d="M995.5 2005.0H1010.0M1002.8 1997.8V2012.2" stroke="#000" stroke-width="3.8" fill="none"/>
<path d="M1007.4 2005.0H1021.9M1014.6 1997.8V2012.2" stroke="#000" stroke-width="3.8" fill="none"/>
<path d="M1011.8 2005.0H1026.2M1019.0 1997.8V2012.2" stroke="#000" stroke-width="3.8" fill="none"/>
<path d="M1032.8 2005.0H1047.2M1040.0 1997.8V2012.2" stroke="#000" stroke-width="3.8" fill="none"/>
<path d="M1105.8 2005.0H1120.2M1113.0 1997.8V2012.2" stroke="#000" stroke-width="3.8" fill="none"/>
<path d="M1274.3 2005.0H1288.8M1281.6 1997.8V2012.2" stroke="#000" stroke-width="3.8" fill="none"/>
<path d="M792.9 2128.4H807.4M800.1 2121.2V2135.7" stroke="#000" stroke-width="3.8" fill="none"/>
<path d="M795.8 2128.4H810.2M803.0 2121.2V2135.7" stroke="#000" stroke-width="3.8" fill="none"/>
<path d="M819.2 2128.4H833.8M826.5 2121.2V2135.7" stroke="#000" stroke-width="3.8" fill="none"/>
<path d="M822.2 2128.4H836.8M829.5 2121.2V2135.7" stroke="#000" stroke-width="3.8" fill="none"/>
<path d="M832.5 2128.4H847.0M839.8 2121.2V2135.7" stroke="#000" stroke-width="3.8" fill="none"/>
<path d="M842.0 2128.4H856.5M849.2 2121.2V2135.7" stroke="#000" stroke-width="3.8" fill="none"/>
<path d="M938.2 2128.4H952.8M945.5 2121.2V2135.7" stroke="#000" stroke-width="3.8" fill="none"/>
<path d="M955.4 2128.4H969.9M962.6 2121.2V2135.7" stroke="#000" stroke-width="3.8" fill="none"/>
<path d="M988.8 2128.4H1003.2M996.0 2121.2V2135.7" stroke="#000" stroke-width="3.8" fill="none"/>
<path d="M1012.4 2128.4H1026.8M1019.6 2121.2V2135.7" stroke="#000" stroke-width="3.8" fill="none"/>
<path d="M1024.8 2128.4H1039.2M1032.0 2121.2V2135.7" stroke="#000" stroke-width="3.8" fill="none"/>
<path d="M1027.8 2128.4H1042.2M1035.0 2121.2V2135.7" stroke="#000" stroke-width="3.8" fill="none"/>
<path d="M1077.5 2128.4H1092.0M1084.8 2121.2V2135.7" stroke="#000" stroke-width="3.8" fill="none"/>
<path d="M1152.5 2128.4H1167.0M1159.8 2121.2V2135.7" stroke="#000" stroke-width="3.8" fill="none"/>
<path d="M1179.5 2128.4H1194.0M1186.8 2121.2V2135.7" stroke="#000" stroke-width="3.8" fill="none"/>
<path d="M1283.2 2128.4H1297.8M1290.5 2121.2V2135.7" stroke="#000" stroke-width="3.8" fill="none"/>
<path d="M1360.2 2128.4H1374.8M1367.5 2121.2V2135.7" stroke="#000" stroke-width="3.8" fill="none"/>
<path d="M1387.2 2128.4H1401.8M1394.5 2121.2V2135.7" stroke="#000" stroke-width="3.8" fill="none"/>
<path d="M953.0 2251.8H967.5M960.2 2244.6V2259.1" stroke="#000" stroke-width="3.8" fill="none"/>
<path d="M999.0 2251.8H1013.5M1006.3 2244.6V2259.1" stroke="#000" stroke-width="3.8" fill="none"/>
<path d="M1008.4 2251.8H1022.9M1015.6 2244.6V2259.1" stroke="#000" stroke-width="3.8" fill="none"/>
<path d="M1029.8 2251.8H1044.2M1037.0 2244.6V2259.1" stroke="#000" stroke-width="3.8" fill="none"/>
<path d="M1032.8 2251.8H1047.2M1040.0 2244.6V2259.1" stroke="#000" stroke-width="3.8" fill="none"/>
<path d="M1073.2 2251.8H1087.8M1080.5 2244.6V2259.1" stroke="#000" stroke-width="3.8" fill="none"/>
<path d="M1117.0 2251.8H1131.5M1124.3 2244.6V2259.1" stroke="#000" stroke-width="3.8" fill="none"/>
<path d="M1159.7 2251.8H1174.2M1166.9 2244.6V2259.1" stroke="#000" stroke-width="3.8" fill="none"/>
<path d="M1242.5 2251.8H1257.0M1249.7 2244.6V2259.1" stroke="#000" stroke-width="3.8" fill="none"/>
<path d="M1273.2 2251.8H1287.8M1280.5 2244.6V2259.1" stroke="#000" stroke-width="3.8" fill="none"/>
<path d="M1279.0 2251.8H1293.5M1286.2 2244.6V2259.1" stroke="#000" stroke-width="3.8" fill="none"/>
<path d="M1379.8 2251.8H1394.3M1387.1 2244.6V2259.1" stroke="#000" stroke-width="3.8" fill="none"/>
<path d="M1390.8 2251.8H1405.3M1398.1 2244.6V2259.1" stroke="#000" stroke-width="3.8" fill="none"/>
<circle cx="973.4" cy="2005.0" r="7.3" fill="none" stroke="#000" stroke-width="3.4"/>
<circle cx="1159.8" cy="2128.4" r="7.3" fill="none" stroke="#000" stroke-width="3.4"/>
<circle cx="1186.8" cy="2128.4" r="7.3" fill="none" stroke="#000" stroke-width="3.4"/>
<polyline points="973.4,2005.5 997.8,2031.0" fill="none" stroke="#000" stroke-width="2.4" stroke-linejoin="round" stroke-linecap="round" />
<polyline points="1161.3,2129.0 1161.6,2167.1" fill="none" stroke="#000" stroke-width="2.4" stroke-linejoin="round" stroke-linecap="round" />
<polyline points="1186.6,2129.0 1189.3,2179.9 1203.5,2179.9" fill="none" stroke="#000" stroke-width="2.4" stroke-linejoin="round" stroke-linecap="round" />
<text x="968.4" y="2063.0" font-size="25.5" class="an" textLength="57.3" lengthAdjust="spacingAndGlyphs">cyO2</text>
<text x="1150.2" y="2198.2" font-size="25.5" class="an" textLength="24.2" lengthAdjust="spacingAndGlyphs">kS</text>
<text x="1215.2" y="2189.3" font-size="25.5" class="an" textLength="40.5" lengthAdjust="spacingAndGlyphs">kB1</text>
</g>
</svg>
</body>
</html>
